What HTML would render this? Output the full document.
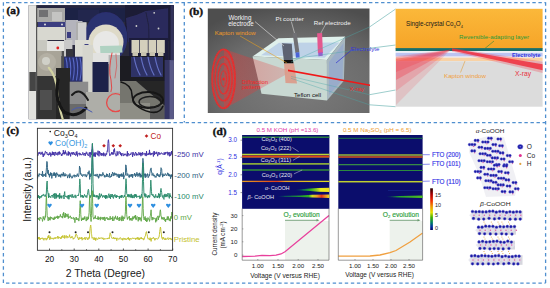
<!DOCTYPE html>
<html><head><meta charset="utf-8"><style>
html,body{margin:0;padding:0;background:#fff;width:550px;height:288px;overflow:hidden}
svg{display:block}

</style></head><body><svg width="550" height="288" viewBox="0 0 550 288"><defs>
<filter id="blur04" x="-5%" y="-50%" width="110%" height="200%"><feGaussianBlur stdDeviation="0.4"/></filter>
<filter id="blur06" x="-5%" y="-5%" width="110%" height="110%"><feGaussianBlur stdDeviation="0.6"/></filter>
<radialGradient id="gbg" cx="0.55" cy="0.75" r="0.8"><stop offset="0" stop-color="#7c7c7c"/><stop offset="0.6" stop-color="#6c6c6c"/><stop offset="1" stop-color="#4e4e4e"/></radialGradient>
<linearGradient id="gcone" x1="0" x2="1"><stop offset="0" stop-color="#e83838" stop-opacity="0.4"/><stop offset="0.5" stop-color="#e83838" stop-opacity="0.3"/><stop offset="1" stop-color="#e83838" stop-opacity="0.22"/></linearGradient>
<linearGradient id="gorange" x1="0" y1="0" x2="0" y2="1"><stop offset="0" stop-color="#fbb83a"/><stop offset="1" stop-color="#f6a428"/></linearGradient>
</defs><g filter="url(#blur06)"><rect x="28.6" y="5.2" width="145" height="114" fill="#2c2c3c" opacity="1"/><rect x="36.5" y="5.2" width="137" height="3" fill="#262840" opacity="1"/><rect x="36.5" y="8" width="29" height="14" fill="#a8a8a6" opacity="1"/><rect x="39" y="10" width="9" height="7" fill="#707072" opacity="1"/><rect x="52" y="12" width="10" height="9" fill="#c4c4c2" opacity="1"/><rect x="65" y="8" width="60" height="14" fill="#1e2044" opacity="1"/><rect x="125" y="5.2" width="48.5" height="36" fill="#1c1c34" opacity="1"/><polygon points="126,18 137,14.7 145.6,11 168.4,8.3 168.4,40 128,42" fill="#2c2c5c" opacity="1"/><path d="M146 12.5 Q150 26 149 40" fill="none" stroke="#202040" stroke-width="1" opacity="1" stroke-linecap="round"/><circle cx="154.2" cy="12.8" r="0.9" fill="#ccc"/><circle cx="136.4" cy="26" r="0.9" fill="#ccc"/><circle cx="158.5" cy="28.5" r="0.9" fill="#ccc"/><rect x="38" y="22" width="28" height="5" fill="#3a3e80" opacity="1"/><circle cx="45" cy="24.5" r="1" fill="#ddd"/><circle cx="62" cy="24.5" r="1" fill="#ddd"/><rect x="37" y="27" width="28" height="13" fill="#d8d8d0" opacity="1"/><rect x="65.5" y="20" width="17" height="25" fill="#b4b4bc" opacity="1"/><rect x="67" y="32" width="4" height="6" fill="#3a3e80" opacity="1"/><rect x="76" y="22" width="10.5" height="22" fill="#aeaeae" opacity="1"/><rect x="78" y="10" width="21" height="11" fill="#24284e" opacity="1"/><ellipse cx="106" cy="37.5" rx="21.5" ry="25.5" fill="#2c3070" opacity="1"/><ellipse cx="106" cy="42" rx="17.5" ry="17.5" fill="#dedac8" opacity="1"/><ellipse cx="106" cy="44" rx="13" ry="13" fill="#e8e8e6" opacity="1"/><rect x="78" y="23" width="8.3" height="22" fill="#d0d0d0" opacity="1"/><polygon points="100,46 122,45.5 122.5,52.5 100.5,53.5" fill="#b0d2c2" opacity="1"/><rect x="129" y="38" width="39" height="22" fill="#1c1e3a" opacity="1"/><rect x="131.5" y="40" width="7.8" height="13" fill="#d4d0bc" opacity="1"/><rect x="132.5" y="52" width="5.5" height="7" fill="#c8c4b0" opacity="1"/><rect x="140" y="40" width="7.8" height="13" fill="#d4d0bc" opacity="1"/><rect x="141" y="52" width="5.5" height="7" fill="#c8c4b0" opacity="1"/><rect x="148.5" y="40" width="7.8" height="13" fill="#d4d0bc" opacity="1"/><rect x="149.5" y="52" width="5.5" height="7" fill="#c8c4b0" opacity="1"/><rect x="157" y="40" width="7.8" height="13" fill="#d4d0bc" opacity="1"/><rect x="158" y="52" width="5.5" height="7" fill="#c8c4b0" opacity="1"/><rect x="36.5" y="40" width="11" height="12" fill="#c8c8c0" opacity="1"/><rect x="47" y="41" width="19" height="15" fill="#e4e4e0" opacity="1"/><ellipse cx="57.8" cy="48" rx="1.4" ry="1.4" fill="#e02020" opacity="1"/><rect x="36.5" y="51" width="25" height="25" fill="#a8a498" opacity="1"/><ellipse cx="47" cy="62" rx="9" ry="9" fill="#b4b0a4" opacity="1"/><ellipse cx="46" cy="61" rx="4" ry="4" fill="#d0d0c8" opacity="1"/><rect x="61.5" y="51" width="3" height="25" fill="#505050" opacity="1"/><rect x="64" y="40" width="8.4" height="16.7" fill="#c8c8c8" opacity="1"/><rect x="75" y="40" width="15.5" height="19" fill="#dcdcd4" opacity="1"/><rect x="66" y="49" width="7" height="13" fill="#34343e" opacity="1"/><rect x="84.5" y="44" width="4" height="8" fill="#3a3e80" opacity="1"/><rect x="64" y="56.7" width="19.5" height="25" fill="#2a3070" opacity="1"/><path d="M66 58 Q68.5 68 66 80" fill="none" stroke="#5a6ac8" stroke-width="1.1" opacity="1" stroke-linecap="round"/><path d="M69.5 58 Q72.0 68 69.5 80" fill="none" stroke="#5a6ac8" stroke-width="1.1" opacity="1" stroke-linecap="round"/><path d="M73 58 Q75.5 68 73 80" fill="none" stroke="#5a6ac8" stroke-width="1.1" opacity="1" stroke-linecap="round"/><path d="M76.5 58 Q79.0 68 76.5 80" fill="none" stroke="#5a6ac8" stroke-width="1.1" opacity="1" stroke-linecap="round"/><path d="M80 58 Q82.5 68 80 80" fill="none" stroke="#5a6ac8" stroke-width="1.1" opacity="1" stroke-linecap="round"/><rect x="82.5" y="45" width="10.5" height="55" fill="#d6d6ce" opacity="1"/><rect x="93" y="53" width="27" height="11" fill="#e2e2e0" opacity="1"/><rect x="92.5" y="62" width="16" height="33" fill="#1e2048" opacity="1"/><rect x="108.6" y="55" width="11.4" height="37" fill="#b4b4b4" opacity="1"/><path d="M112 53 Q108 70 111 80 Q113 88 110 96" fill="none" stroke="#e04848" stroke-width="1" opacity="1" stroke-linecap="round"/><path d="M116 54 Q118 66 115 78" fill="none" stroke="#d06060" stroke-width="0.8" opacity="1" stroke-linecap="round"/><rect x="120" y="56" width="45" height="25" fill="#1a1a22" opacity="1"/><rect x="131" y="57" width="32" height="20" fill="#2e3266" opacity="1"/><path d="M134 57 Q136 68 140 75" fill="none" stroke="#6470c4" stroke-width="1.2" opacity="1" stroke-linecap="round"/><path d="M141 57 Q143 68 147 75" fill="none" stroke="#6470c4" stroke-width="1.2" opacity="1" stroke-linecap="round"/><path d="M148 57 Q150 68 154 75" fill="none" stroke="#6470c4" stroke-width="1.2" opacity="1" stroke-linecap="round"/><path d="M155 57 Q157 68 161 75" fill="none" stroke="#6470c4" stroke-width="1.2" opacity="1" stroke-linecap="round"/><rect x="36.5" y="76" width="20" height="43" fill="#343434" opacity="1"/><rect x="40" y="90" width="12" height="20" fill="#505050" opacity="1"/><rect x="56" y="68" width="14" height="51" fill="#262626" opacity="1"/><rect x="69.7" y="81.7" width="18.5" height="22.3" fill="#8c8c8c" opacity="1"/><rect x="69.7" y="104" width="18.5" height="15" fill="#6a6a6a" opacity="1"/><rect x="86" y="92" width="45" height="27" fill="#aeaea8" opacity="1"/><path d="M106.6 102.7 A9 9 0 1 0 124.6 102.7 A9 9 0 1 0 106.6 102.7" fill="none" stroke="#e84848" stroke-width="1.3" opacity="1" stroke-linecap="round"/><rect x="120" y="81" width="45" height="38" fill="#74746e" opacity="1"/><polygon points="136,81 165,81 165,106" fill="#262628" opacity="1"/><rect x="120" y="103" width="30" height="16" fill="#8e8e86" opacity="1"/><rect x="150" y="106" width="15" height="13" fill="#5a5a5a" opacity="1"/><ellipse cx="148" cy="100" rx="15" ry="8" fill="none" stroke="#161616" stroke-width="1.8"/><ellipse cx="150" cy="102" rx="11" ry="5.5" fill="none" stroke="#1c1c1c" stroke-width="1.4"/><path d="M121 82 Q132 85 132 95 Q133 108 150 112 Q160 114 163 106" fill="none" stroke="#161616" stroke-width="1.6" opacity="1" stroke-linecap="round"/><rect x="168.4" y="5.2" width="5.2" height="55" fill="#1e1e36" opacity="1"/><rect x="164.6" y="60" width="9" height="59" fill="#363664" opacity="1"/><rect x="169.6" y="60" width="4" height="59" fill="#5a5a88" opacity="1"/><rect x="170.6" y="5.2" width="3" height="55" fill="#30305a" opacity="1"/><rect x="28.6" y="5.2" width="7.8" height="114" fill="#e2e2de" opacity="1"/><rect x="29.4" y="72" width="6.5" height="19" fill="#444" opacity="1"/><rect x="36" y="5.2" width="1.2" height="114" fill="#555" opacity="1"/><path d="M48.8 67.8 Q56 76 57 90 Q59 108 62.7 119" fill="none" stroke="#d2d2a2" stroke-width="2.2" opacity="1" stroke-linecap="round"/><path d="M58 80 Q54 100 64 112 Q76 119 86 108" fill="none" stroke="#141414" stroke-width="3" opacity="1" stroke-linecap="round"/><path d="M72 95 Q80 86 88 100" fill="none" stroke="#1a1a1a" stroke-width="2" opacity="1" stroke-linecap="round"/><path d="M72 110 Q80 104 92 112" fill="none" stroke="#4a5ab0" stroke-width="1" opacity="1" stroke-linecap="round"/></g><rect x="207.8" y="8.5" width="161.7" height="104.5" fill="url(#gbg)"/><polygon points="252.6,56.4 278.5,38.3 345.2,36.5 326.9,60" fill="#dff0ec"/><polygon points="261,55.3 279,42.8 339.5,42.5 324.5,57.8" fill="#b8cce6" opacity="0.85"/><polygon points="252.6,56.4 326.9,60 327,100.5 261.5,93.8" fill="#c8d8d2"/><polygon points="326.9,60 345.2,36.5 343.9,80.8 327,100.5" fill="#a8b8c0"/><polygon points="329,62 343.5,43 342.5,80 329,95" fill="#90a4d0" opacity="0.6"/><polygon points="224,49 287,70 287,74 224,109" fill="url(#gcone)"/><g filter="url(#blur04)"><ellipse cx="223.6" cy="78.8" rx="12" ry="30" fill="#f03030" opacity="0.22"/><ellipse cx="223.6" cy="78.8" rx="11.4" ry="29.4" fill="none" stroke="#f02828" stroke-width="1.9" opacity="0.8"/><ellipse cx="223.6" cy="78.8" rx="8.5" ry="22" fill="none" stroke="#f02828" stroke-width="1.5" opacity="0.8"/><ellipse cx="223.6" cy="78.8" rx="5.7" ry="15" fill="none" stroke="#f02828" stroke-width="1.4" opacity="0.8"/><ellipse cx="223.6" cy="78.8" rx="3" ry="8" fill="none" stroke="#f02828" stroke-width="1" opacity="0.8"/><ellipse cx="223.6" cy="79" rx="1.2" ry="1.6" fill="#f02828"/></g><polygon points="281.8,43.2 291.8,43.8 292.9,59.9 283.8,59.9" fill="#5c6272"/><polygon points="283.8,59.9 292.9,59.9 293.5,63.5 284,63.5" fill="#0c0c0c"/><polygon points="284,63.5 294,63.5 297,83.4 285.5,83" fill="#dc9a88" opacity="0.9"/><path d="M291.3 21.5 L294.5 33" stroke="#c8c8c8" stroke-width="0.7"/><path d="M294.6 33 L297.4 52.6" stroke="#707074" stroke-width="4"/><path d="M297.4 52.3 L297.8 57.6" stroke="#4a64d8" stroke-width="3.8"/><path d="M326 23.7 L320.8 33.2" stroke="#e0e0e0" stroke-width="0.5"/><path d="M319.6 33.2 L320.4 53" stroke="#e4588e" stroke-width="5"/><path d="M320.4 52.5 L320.6 56" stroke="#9a5ad0" stroke-width="4.4"/><polygon points="288,69.6 370,84.4 370,86 288,71.2" fill="#f01818"/><path d="M291 62 L369.5 27 M291 59 L369.5 48.3 M291 76.4 L369.5 94.7 M291 78.3 L369.5 104.8" stroke="#4aa8a8" stroke-width="0.45" fill="none" opacity="0.9"/><path d="M255 21.6 L284 46" stroke="#e8e8e8" stroke-width="0.6"/><path d="M240 36 L287 63" stroke="#e8a020" stroke-width="0.6"/><path d="M351 50.5 L336 63" stroke="#3030d0" stroke-width="0.7"/><text x="228.4" y="19.8" font-size="6.5" fill="#f2f2f2" text-anchor="start" font-family="Liberation Sans, sans-serif" textLength="23" lengthAdjust="spacingAndGlyphs" >Working</text><text x="228.2" y="25.6" font-size="6.6" fill="#f2f2f2" text-anchor="start" font-family="Liberation Sans, sans-serif" textLength="25.4" lengthAdjust="spacingAndGlyphs" >electrode</text><text x="214.7" y="34.9" font-size="6.1" fill="#f09a28" text-anchor="start" font-family="Liberation Sans, sans-serif" textLength="41" lengthAdjust="spacingAndGlyphs" >Kapton window</text><text x="275.5" y="21.2" font-size="6.2" fill="#f2f2f2" text-anchor="start" font-family="Liberation Sans, sans-serif" textLength="28.3" lengthAdjust="spacingAndGlyphs" >Pt counter</text><text x="313.7" y="24.5" font-size="6.2" fill="#f2f2f2" text-anchor="start" font-family="Liberation Sans, sans-serif" textLength="37" lengthAdjust="spacingAndGlyphs" >Ref electrode</text><text x="350.8" y="50.6" font-size="6.1" fill="#3535d8" text-anchor="start" font-family="Liberation Sans, sans-serif" textLength="28.5" lengthAdjust="spacingAndGlyphs" >Electrolyte</text><text x="241.7" y="83.6" font-size="6" fill="#f02828" text-anchor="start" font-family="Liberation Sans, sans-serif" textLength="26.3" lengthAdjust="spacingAndGlyphs" >Diffraction</text><text x="241.7" y="89.4" font-size="6.1" fill="#f02828" text-anchor="start" font-family="Liberation Sans, sans-serif" textLength="19" lengthAdjust="spacingAndGlyphs" >pattern</text><text x="294" y="96.8" font-size="6.1" fill="#111" text-anchor="start" font-family="Liberation Sans, sans-serif" textLength="27" lengthAdjust="spacingAndGlyphs" >Teflon cell</text><text x="349.5" y="91" font-size="6.1" fill="#f02828" text-anchor="start" font-family="Liberation Sans, sans-serif" textLength="14.7" lengthAdjust="spacingAndGlyphs" >X-ray</text><path d="M369.5 27 L395.6 9 M369.5 48.3 L395.6 45 M369.5 94.7 L395.6 90 M369.5 104.8 L395.6 106.7" stroke="#3a9a98" stroke-width="0.5" fill="none"/><rect x="395.6" y="8.8" width="147.0" height="40" fill="url(#gorange)"/><rect x="395.6" y="48.1" width="147.0" height="3.1" fill="#1a6e6a"/><rect x="395.6" y="51.2" width="147.0" height="1.6" fill="#f4f4f8"/><rect x="395.6" y="52.8" width="147.0" height="3.8" fill="#bcc4f2"/><rect x="395.6" y="56.6" width="147.0" height="1" fill="#eaeaf2"/><rect x="395.6" y="57.6" width="147.0" height="3.6" fill="#f8d2a6"/><rect x="395.6" y="61.2" width="147.0" height="45.5" fill="#dcdcdc"/><polygon points="451,49.5 396,56 396,105" fill="#f04050" opacity="0.17"/><polygon points="451,49.5 396,57 396,91" fill="#f04050" opacity="0.22"/><polygon points="451,49.5 396,59 396,80" fill="#f03848" opacity="0.33"/><polygon points="451,49.5 396,61 396,72" fill="#f03040" opacity="0.25"/><g filter="url(#blur04)"><polygon points="452,48 542.6,61.5 542.6,73 452,51.5" fill="#f04050" opacity="0.3"/><polygon points="452,48.6 542.6,64.2 542.6,70.2 452,50.6" fill="#f02838" opacity="0.8"/></g><path d="M460.5 72.5 L465 61" stroke="#e0a040" stroke-width="0.6"/><path d="M494 41 L485 48.4" stroke="#2a8a3a" stroke-width="0.6"/><text x="406" y="26.3" font-size="6.3" fill="#1a1a1a" text-anchor="start" font-family="Liberation Sans, sans-serif" >Single-crystal Co<tspan font-size="4" dy="1.5">3</tspan><tspan dy="-1.5">O</tspan><tspan font-size="4" dy="1.5">4</tspan></text><text x="459" y="39.4" font-size="6" fill="#2a9a3a" text-anchor="start" font-family="Liberation Sans, sans-serif" textLength="70" lengthAdjust="spacingAndGlyphs" >Reversible-adapting layer</text><text x="512" y="57.4" font-size="6" fill="#3434e0" text-anchor="start" font-family="Liberation Sans, sans-serif" textLength="28.5" lengthAdjust="spacingAndGlyphs" font-weight="bold">Electrolyte</text><text x="444" y="78.4" font-size="6.1" fill="#f0a040" text-anchor="start" font-family="Liberation Sans, sans-serif" textLength="42" lengthAdjust="spacingAndGlyphs" >Kapton window</text><text x="515" y="76" font-size="6.6" fill="#e83040" text-anchor="start" font-family="Liberation Sans, sans-serif" textLength="16" lengthAdjust="spacingAndGlyphs" >X-ray</text><polyline points="37.6,155.5 37.9,155.8 38.3,153.9 38.6,152.8 38.9,152.3 39.2,153.8 39.6,152.4 39.9,151.9 40.2,154.1 40.6,154.0 40.9,154.5 41.2,152.6 41.6,153.8 41.9,153.7 42.2,151.8 42.5,154.5 42.9,154.2 43.2,157.0 43.5,154.1 43.9,153.6 44.2,155.4 44.5,153.8 44.9,154.2 45.2,151.4 45.5,151.3 45.8,152.3 46.2,152.8 46.5,153.1 46.8,152.1 47.2,154.3 47.5,153.9 47.8,154.8 48.2,154.1 48.5,155.3 48.8,153.7 49.1,154.1 49.5,154.7 49.8,152.3 50.1,153.3 50.5,153.1 50.8,156.5 51.1,153.7 51.5,154.7 51.8,154.6 52.1,153.4 52.4,151.7 52.8,155.1 53.1,153.3 53.4,154.8 53.8,152.0 54.1,153.2 54.4,155.5 54.8,155.7 55.1,152.0 55.4,152.0 55.7,153.7 56.1,154.8 56.4,154.0 56.7,154.2 57.1,152.5 57.4,154.6 57.7,155.3 58.1,153.2 58.4,151.9 58.7,152.8 59.0,154.8 59.4,151.5 59.7,153.7 60.0,152.5 60.4,153.6 60.7,153.5 61.0,153.8 61.4,155.8 61.7,154.4 62.0,155.6 62.3,153.6 62.7,153.2 63.0,154.3 63.3,150.0 63.7,153.7 64.0,154.0 64.3,152.1 64.7,154.4 65.0,153.0 65.3,150.5 65.6,153.5 66.0,152.5 66.3,153.1 66.6,153.6 67.0,155.5 67.3,153.9 67.6,153.8 68.0,154.3 68.3,151.4 68.6,155.5 68.9,152.3 69.3,154.4 69.6,152.3 69.9,152.5 70.3,153.3 70.6,156.4 70.9,154.7 71.3,153.0 71.6,153.4 71.9,152.2 72.2,153.8 72.6,153.0 72.9,154.8 73.2,152.0 73.6,153.3 73.9,152.7 74.2,152.8 74.6,154.8 74.9,154.0 75.2,154.6 75.5,155.4 75.9,155.4 76.2,151.9 76.5,154.5 76.9,151.4 77.2,153.7 77.5,156.4 77.9,153.5 78.2,153.3 78.5,154.0 78.8,153.8 79.2,153.8 79.5,152.8 79.8,155.3 80.2,155.0 80.5,153.5 80.8,154.2 81.2,154.7 81.5,155.2 81.8,154.3 82.1,154.7 82.5,153.4 82.8,152.4 83.1,153.1 83.5,155.2 83.8,155.1 84.1,154.0 84.5,153.0 84.8,154.2 85.1,156.0 85.4,155.6 85.8,152.9 86.1,153.7 86.4,151.8 86.8,152.3 87.1,154.1 87.4,153.8 87.8,155.1 88.1,155.5 88.4,154.9 88.7,155.6 89.1,153.1 89.4,152.3 89.7,154.5 90.1,157.4 90.4,154.3 90.7,152.2 91.1,154.0 91.4,155.1 91.7,149.7 92.0,148.4 92.4,144.0 92.7,148.5 93.0,151.8 93.4,153.5 93.7,156.4 94.0,153.2 94.4,152.9 94.7,156.3 95.0,152.6 95.3,156.8 95.7,153.7 96.0,152.4 96.3,153.8 96.7,154.0 97.0,154.1 97.3,153.5 97.7,155.3 98.0,150.7 98.3,153.1 98.6,153.4 99.0,156.3 99.3,151.1 99.6,153.3 100.0,152.3 100.3,152.9 100.6,154.7 101.0,154.4 101.3,155.7 101.6,153.0 101.9,154.2 102.3,155.4 102.6,155.0 102.9,153.3 103.3,155.3 103.6,152.6 103.9,156.2 104.3,154.0 104.6,153.6 104.9,154.2 105.2,154.9 105.6,156.2 105.9,153.6 106.2,153.3 106.6,154.6 106.9,152.5 107.2,150.8 107.6,151.4 107.9,143.7 108.2,140.6 108.5,139.7 108.9,143.7 109.2,152.5 109.5,153.7 109.9,155.9 110.2,154.5 110.5,154.2 110.9,154.6 111.2,153.3 111.5,153.9 111.8,152.0 112.2,154.5 112.5,152.7 112.8,153.2 113.2,154.6 113.5,154.1 113.8,149.6 114.2,151.8 114.5,148.5 114.8,152.5 115.1,154.3 115.5,154.0 115.8,154.0 116.1,156.2 116.5,155.0 116.8,154.4 117.1,151.3 117.5,152.8 117.8,155.4 118.1,154.0 118.4,152.3 118.8,152.2 119.1,151.4 119.4,151.8 119.8,151.8 120.1,154.0 120.4,152.4 120.8,155.1 121.1,153.1 121.4,153.4 121.7,156.1 122.1,153.9 122.4,153.6 122.7,153.5 123.1,153.3 123.4,155.9 123.7,155.7 124.1,154.8 124.4,154.0 124.7,155.2 125.0,153.7 125.4,154.4 125.7,154.3 126.0,153.9 126.4,156.0 126.7,156.2 127.0,155.6 127.4,151.2 127.7,156.3 128.0,154.7 128.3,153.2 128.7,153.8 129.0,155.3 129.3,155.4 129.7,155.0 130.0,154.0 130.3,153.8 130.7,154.9 131.0,153.7 131.3,152.6 131.6,153.0 132.0,153.6 132.3,154.2 132.6,156.9 133.0,152.0 133.3,154.4 133.6,153.7 134.0,154.2 134.3,155.6 134.6,155.5 134.9,153.6 135.3,153.0 135.6,152.0 135.9,153.7 136.3,155.5 136.6,153.4 136.9,154.8 137.3,154.8 137.6,154.3 137.9,155.3 138.2,153.6 138.6,152.7 138.9,152.2 139.2,155.1 139.6,153.3 139.9,153.4 140.2,154.9 140.6,152.7 140.9,156.2 141.2,154.7 141.6,153.1 141.9,152.9 142.2,155.3 142.5,152.2 142.9,152.9 143.2,153.8 143.5,154.1 143.9,153.8 144.2,154.3 144.5,153.3 144.9,153.6 145.2,155.5 145.5,154.7 145.8,153.2 146.2,156.1 146.5,151.1 146.8,153.9 147.2,154.7 147.5,155.1 147.8,154.0 148.2,153.3 148.5,154.6 148.8,153.5 149.1,154.4 149.5,149.9 149.8,154.3 150.1,152.7 150.5,155.1 150.8,154.8 151.1,154.8 151.5,153.3 151.8,154.4 152.1,153.3 152.4,154.1 152.8,153.6 153.1,152.6 153.4,156.5 153.8,154.8 154.1,151.0 154.4,155.0 154.8,151.9 155.1,153.5 155.4,153.0 155.7,153.1 156.1,154.1 156.4,153.4 156.7,151.8 157.1,153.8 157.4,154.3 157.7,156.2 158.1,153.2 158.4,152.2 158.7,153.3 159.0,154.7 159.4,152.6 159.7,152.8 160.0,154.5 160.4,153.8 160.7,154.1 161.0,153.0 161.4,152.7 161.7,153.4 162.0,153.6 162.3,153.3 162.7,154.4 163.0,154.5 163.3,154.5 163.7,154.4 164.0,152.6 164.3,152.3 164.7,154.9 165.0,153.8 165.3,154.0 165.6,152.2 166.0,153.5 166.3,152.9 166.6,152.6 167.0,152.9 167.3,151.8 167.6,153.9 168.0,155.4 168.3,152.8 168.6,153.9 168.9,152.3 169.3,154.7 169.6,156.3 169.9,152.1 170.3,153.5 170.6,155.7 170.9,154.3 171.3,154.0 171.6,151.0 171.9,153.6 172.2,155.0" fill="none" stroke="#4232a6" stroke-width="0.95" stroke-linejoin="round"/><polyline points="37.6,178.6 37.9,174.5 38.3,175.9 38.6,175.6 38.9,176.5 39.2,173.5 39.6,174.8 39.9,174.4 40.2,173.9 40.6,174.3 40.9,174.7 41.2,175.0 41.6,174.2 41.9,176.0 42.2,174.7 42.5,171.1 42.9,177.0 43.2,174.9 43.5,174.4 43.9,175.8 44.2,175.7 44.5,175.5 44.9,174.2 45.2,175.7 45.5,173.3 45.8,176.9 46.2,171.1 46.5,167.2 46.8,161.4 47.2,161.8 47.5,167.3 47.8,173.6 48.2,170.1 48.5,175.0 48.8,175.0 49.1,174.6 49.5,177.3 49.8,173.9 50.1,175.1 50.5,172.5 50.8,175.6 51.1,173.0 51.5,173.1 51.8,178.4 52.1,176.2 52.4,175.2 52.8,175.5 53.1,173.3 53.4,173.8 53.8,175.8 54.1,172.3 54.4,175.6 54.8,172.9 55.1,175.4 55.4,173.7 55.7,177.6 56.1,176.6 56.4,174.5 56.7,172.6 57.1,174.1 57.4,175.1 57.7,173.9 58.1,175.6 58.4,176.6 58.7,175.1 59.0,174.6 59.4,176.3 59.7,174.8 60.0,176.4 60.4,174.8 60.7,177.4 61.0,174.8 61.4,173.8 61.7,175.4 62.0,174.4 62.3,173.9 62.7,175.1 63.0,176.3 63.3,172.3 63.7,175.2 64.0,175.0 64.3,175.0 64.7,176.3 65.0,173.4 65.3,176.1 65.6,174.9 66.0,175.4 66.3,174.9 66.6,174.8 67.0,174.5 67.3,175.8 67.6,178.1 68.0,176.7 68.3,176.4 68.6,176.0 68.9,174.6 69.3,176.1 69.6,178.1 69.9,173.5 70.3,176.4 70.6,176.7 70.9,175.7 71.3,176.4 71.6,177.2 71.9,178.3 72.2,177.1 72.6,177.6 72.9,175.7 73.2,176.4 73.6,175.5 73.9,175.7 74.2,174.7 74.6,176.2 74.9,177.3 75.2,175.1 75.5,175.7 75.9,176.2 76.2,175.4 76.5,176.6 76.9,175.7 77.2,173.7 77.5,173.9 77.9,176.3 78.2,176.2 78.5,176.7 78.8,174.8 79.2,172.4 79.5,166.0 79.8,168.3 80.2,167.8 80.5,174.3 80.8,173.2 81.2,174.4 81.5,175.6 81.8,174.8 82.1,174.4 82.5,176.6 82.8,176.3 83.1,175.9 83.5,174.9 83.8,174.2 84.1,174.7 84.5,174.7 84.8,175.3 85.1,176.4 85.4,175.1 85.8,174.3 86.1,174.5 86.4,177.1 86.8,175.6 87.1,175.6 87.4,175.2 87.8,174.3 88.1,172.0 88.4,173.1 88.7,174.1 89.1,170.7 89.4,175.0 89.7,179.4 90.1,173.6 90.4,175.6 90.7,176.8 91.1,175.2 91.4,175.8 91.7,167.8 92.0,159.2 92.4,155.2 92.7,158.9 93.0,167.1 93.4,174.5 93.7,175.5 94.0,175.4 94.4,174.8 94.7,175.8 95.0,175.2 95.3,174.4 95.7,176.1 96.0,175.9 96.3,175.5 96.7,176.3 97.0,173.9 97.3,175.2 97.7,174.7 98.0,177.2 98.3,176.1 98.6,178.3 99.0,177.5 99.3,174.9 99.6,173.9 100.0,176.1 100.3,175.0 100.6,175.2 101.0,174.0 101.3,176.2 101.6,175.7 101.9,175.9 102.3,175.8 102.6,174.2 102.9,172.4 103.3,175.0 103.6,174.5 103.9,174.7 104.3,176.7 104.6,175.3 104.9,177.4 105.2,175.6 105.6,176.3 105.9,176.1 106.2,176.5 106.6,173.7 106.9,176.9 107.2,175.5 107.6,174.1 107.9,176.2 108.2,175.9 108.5,177.1 108.9,176.4 109.2,175.9 109.5,173.2 109.9,177.7 110.2,177.4 110.5,176.4 110.9,176.0 111.2,177.0 111.5,174.2 111.8,176.1 112.2,174.6 112.5,172.1 112.8,173.0 113.2,173.0 113.5,175.8 113.8,175.8 114.2,173.0 114.5,172.7 114.8,175.3 115.1,175.1 115.5,174.1 115.8,173.4 116.1,175.1 116.5,173.8 116.8,174.5 117.1,176.6 117.5,175.7 117.8,174.4 118.1,173.9 118.4,175.1 118.8,177.7 119.1,174.7 119.4,177.7 119.8,174.3 120.1,175.1 120.4,176.3 120.8,174.4 121.1,175.5 121.4,173.6 121.7,176.3 122.1,177.0 122.4,174.5 122.7,175.7 123.1,174.8 123.4,172.5 123.7,179.1 124.1,176.2 124.4,176.5 124.7,175.8 125.0,174.7 125.4,175.0 125.7,164.9 126.0,165.0 126.4,167.9 126.7,172.4 127.0,175.7 127.4,174.3 127.7,173.6 128.0,173.9 128.3,176.0 128.7,176.7 129.0,176.5 129.3,177.6 129.7,174.7 130.0,176.7 130.3,176.3 130.7,175.2 131.0,174.4 131.3,176.6 131.6,174.5 132.0,175.0 132.3,174.1 132.6,177.8 133.0,175.3 133.3,174.7 133.6,175.1 134.0,175.1 134.3,175.5 134.6,173.1 134.9,173.8 135.3,176.1 135.6,176.9 135.9,174.0 136.3,175.6 136.6,174.6 136.9,172.3 137.3,175.0 137.6,173.9 137.9,176.6 138.2,175.1 138.6,175.3 138.9,173.4 139.2,175.6 139.6,172.8 139.9,175.7 140.2,177.3 140.6,173.8 140.9,176.5 141.2,177.3 141.6,175.1 141.9,176.4 142.2,172.6 142.5,166.1 142.9,158.3 143.2,160.4 143.5,166.2 143.9,176.5 144.2,175.4 144.5,175.1 144.9,173.6 145.2,177.7 145.5,173.8 145.8,177.4 146.2,176.9 146.5,175.5 146.8,174.5 147.2,175.3 147.5,173.6 147.8,176.3 148.2,177.7 148.5,176.6 148.8,176.8 149.1,174.4 149.5,175.7 149.8,173.3 150.1,171.7 150.5,169.0 150.8,168.8 151.1,167.9 151.5,172.2 151.8,172.0 152.1,175.5 152.4,174.2 152.8,173.5 153.1,173.4 153.4,175.6 153.8,174.9 154.1,176.3 154.4,175.1 154.8,175.4 155.1,177.4 155.4,176.5 155.7,176.4 156.1,177.4 156.4,175.7 156.7,174.1 157.1,174.3 157.4,173.3 157.7,175.9 158.1,174.9 158.4,176.1 158.7,176.5 159.0,174.3 159.4,175.6 159.7,177.1 160.0,175.3 160.4,175.6 160.7,171.6 161.0,167.7 161.4,168.5 161.7,169.0 162.0,175.1 162.3,174.5 162.7,177.2 163.0,173.7 163.3,175.6 163.7,175.9 164.0,175.1 164.3,175.9 164.7,174.4 165.0,173.9 165.3,173.5 165.6,174.6 166.0,174.3 166.3,175.7 166.6,174.9 167.0,174.5 167.3,174.4 167.6,172.8 168.0,174.9 168.3,176.0 168.6,173.6 168.9,175.0 169.3,176.3 169.6,174.5 169.9,175.7 170.3,174.8 170.6,178.7 170.9,177.3 171.3,177.0 171.6,174.5 171.9,176.3 172.2,175.2" fill="none" stroke="#2f6482" stroke-width="0.95" stroke-linejoin="round"/><polyline points="37.6,196.4 37.9,197.9 38.3,195.1 38.6,197.6 38.9,196.0 39.2,196.0 39.6,198.8 39.9,196.5 40.2,196.2 40.6,197.2 40.9,197.8 41.2,196.3 41.6,197.1 41.9,195.0 42.2,195.8 42.5,195.7 42.9,194.6 43.2,194.3 43.5,194.2 43.9,196.0 44.2,196.1 44.5,195.9 44.9,196.4 45.2,194.6 45.5,196.2 45.8,196.5 46.2,195.9 46.5,189.0 46.8,182.9 47.2,181.0 47.5,189.7 47.8,192.1 48.2,194.3 48.5,197.7 48.8,193.4 49.1,197.3 49.5,196.7 49.8,195.9 50.1,196.9 50.5,197.0 50.8,197.7 51.1,196.0 51.5,195.5 51.8,195.5 52.1,195.0 52.4,196.2 52.8,195.3 53.1,197.7 53.4,193.9 53.8,194.9 54.1,195.1 54.4,193.6 54.8,198.8 55.1,193.2 55.4,195.9 55.7,195.6 56.1,198.5 56.4,193.7 56.7,197.7 57.1,195.3 57.4,196.1 57.7,195.4 58.1,197.1 58.4,194.8 58.7,196.2 59.0,196.8 59.4,198.7 59.7,193.2 60.0,198.3 60.4,197.5 60.7,195.7 61.0,196.7 61.4,195.7 61.7,198.4 62.0,196.6 62.3,196.0 62.7,196.0 63.0,196.0 63.3,196.1 63.7,195.2 64.0,199.0 64.3,193.8 64.7,191.6 65.0,196.1 65.3,196.1 65.6,196.8 66.0,196.0 66.3,196.1 66.6,196.7 67.0,197.6 67.3,195.7 67.6,195.8 68.0,198.8 68.3,197.0 68.6,195.0 68.9,199.3 69.3,197.3 69.6,195.5 69.9,194.8 70.3,196.7 70.6,195.2 70.9,194.9 71.3,194.6 71.6,195.6 71.9,197.7 72.2,195.7 72.6,194.4 72.9,197.2 73.2,196.4 73.6,197.4 73.9,197.9 74.2,196.1 74.6,196.1 74.9,196.2 75.2,194.8 75.5,197.2 75.9,198.1 76.2,196.5 76.5,196.0 76.9,196.0 77.2,195.3 77.5,195.3 77.9,195.8 78.2,195.2 78.5,195.7 78.8,193.5 79.2,192.4 79.5,184.3 79.8,178.9 80.2,183.3 80.5,193.3 80.8,197.3 81.2,195.3 81.5,195.7 81.8,195.6 82.1,197.1 82.5,195.1 82.8,197.6 83.1,195.9 83.5,197.5 83.8,196.3 84.1,196.0 84.5,194.4 84.8,195.4 85.1,196.0 85.4,197.2 85.8,196.6 86.1,195.4 86.4,196.8 86.8,197.6 87.1,195.9 87.4,194.6 87.8,192.1 88.1,190.2 88.4,189.3 88.7,190.4 89.1,195.2 89.4,195.4 89.7,195.3 90.1,197.9 90.4,197.4 90.7,195.4 91.1,196.3 91.4,195.3 91.7,184.3 92.0,160.6 92.4,143.2 92.7,155.0 93.0,183.3 93.4,195.1 93.7,196.8 94.0,194.5 94.4,196.7 94.7,195.2 95.0,197.0 95.3,197.1 95.7,196.6 96.0,195.3 96.3,195.5 96.7,197.4 97.0,195.1 97.3,196.9 97.7,197.0 98.0,195.9 98.3,199.4 98.6,196.4 99.0,199.1 99.3,193.7 99.6,193.4 100.0,197.6 100.3,197.1 100.6,195.9 101.0,196.2 101.3,193.8 101.6,195.5 101.9,195.0 102.3,196.0 102.6,197.5 102.9,196.4 103.3,196.8 103.6,195.4 103.9,195.7 104.3,196.4 104.6,195.9 104.9,197.9 105.2,195.2 105.6,198.8 105.9,195.0 106.2,197.7 106.6,195.3 106.9,198.4 107.2,196.5 107.6,196.8 107.9,197.3 108.2,195.5 108.5,194.9 108.9,193.7 109.2,197.9 109.5,195.4 109.9,195.5 110.2,196.3 110.5,198.9 110.9,194.1 111.2,196.6 111.5,195.8 111.8,197.0 112.2,194.0 112.5,195.8 112.8,197.4 113.2,198.3 113.5,198.4 113.8,195.2 114.2,196.4 114.5,196.2 114.8,194.5 115.1,194.4 115.5,197.3 115.8,196.6 116.1,196.1 116.5,197.9 116.8,195.0 117.1,197.0 117.5,196.3 117.8,196.2 118.1,196.9 118.4,196.5 118.8,196.6 119.1,196.6 119.4,198.8 119.8,195.9 120.1,197.6 120.4,197.1 120.8,195.8 121.1,197.3 121.4,195.2 121.7,197.8 122.1,195.2 122.4,195.7 122.7,196.7 123.1,197.4 123.4,197.5 123.7,197.5 124.1,196.0 124.4,195.1 124.7,196.9 125.0,195.9 125.4,190.2 125.7,184.0 126.0,178.7 126.4,183.8 126.7,193.5 127.0,194.1 127.4,195.1 127.7,196.8 128.0,194.3 128.3,196.3 128.7,194.5 129.0,197.3 129.3,195.4 129.7,196.5 130.0,194.3 130.3,195.9 130.7,197.5 131.0,196.9 131.3,193.9 131.6,197.5 132.0,197.5 132.3,195.8 132.6,198.1 133.0,194.9 133.3,196.2 133.6,197.7 134.0,198.0 134.3,198.0 134.6,194.9 134.9,194.0 135.3,196.8 135.6,194.4 135.9,196.1 136.3,194.6 136.6,197.7 136.9,197.3 137.3,197.0 137.6,196.3 137.9,196.4 138.2,195.9 138.6,196.8 138.9,196.6 139.2,196.9 139.6,195.7 139.9,198.8 140.2,196.7 140.6,198.1 140.9,198.0 141.2,195.2 141.6,194.1 141.9,197.4 142.2,191.6 142.5,179.4 142.9,162.9 143.2,165.9 143.5,181.3 143.9,193.3 144.2,195.4 144.5,196.3 144.9,193.3 145.2,197.4 145.5,196.7 145.8,194.1 146.2,195.3 146.5,196.3 146.8,197.1 147.2,196.3 147.5,198.1 147.8,196.3 148.2,195.0 148.5,195.4 148.8,197.3 149.1,195.5 149.5,197.4 149.8,197.1 150.1,193.6 150.5,186.8 150.8,180.1 151.1,185.0 151.5,191.7 151.8,194.9 152.1,194.2 152.4,195.6 152.8,194.9 153.1,194.4 153.4,196.5 153.8,196.9 154.1,195.9 154.4,198.1 154.8,197.5 155.1,197.7 155.4,195.5 155.7,194.4 156.1,197.0 156.4,196.7 156.7,197.2 157.1,196.8 157.4,197.9 157.7,195.9 158.1,197.2 158.4,195.1 158.7,193.3 159.0,195.7 159.4,198.2 159.7,194.0 160.0,197.0 160.4,192.7 160.7,189.6 161.0,188.4 161.4,190.8 161.7,192.7 162.0,195.9 162.3,196.8 162.7,197.4 163.0,195.3 163.3,198.3 163.7,198.8 164.0,199.4 164.3,194.6 164.7,196.5 165.0,193.9 165.3,196.8 165.6,197.0 166.0,194.8 166.3,194.2 166.6,196.5 167.0,197.1 167.3,195.3 167.6,196.0 168.0,193.0 168.3,195.4 168.6,196.5 168.9,196.5 169.3,198.4 169.6,194.8 169.9,193.4 170.3,196.9 170.6,195.5 170.9,196.7 171.3,197.2 171.6,197.1 171.9,198.2 172.2,198.1" fill="none" stroke="#2a8a6a" stroke-width="0.95" stroke-linejoin="round"/><polyline points="37.6,218.6 37.9,219.1 38.3,217.9 38.6,219.0 38.9,219.7 39.2,219.0 39.6,220.5 39.9,217.3 40.2,218.6 40.6,217.6 40.9,217.5 41.2,218.3 41.6,218.8 41.9,219.0 42.2,219.2 42.5,221.4 42.9,219.6 43.2,216.4 43.5,218.8 43.9,217.7 44.2,217.8 44.5,220.2 44.9,218.2 45.2,215.8 45.5,217.3 45.8,210.3 46.2,198.3 46.5,196.2 46.8,206.3 47.2,215.5 47.5,217.6 47.8,218.5 48.2,220.9 48.5,217.4 48.8,217.4 49.1,218.1 49.5,219.9 49.8,217.5 50.1,220.3 50.5,216.7 50.8,217.0 51.1,218.3 51.5,217.2 51.8,217.5 52.1,218.9 52.4,219.2 52.8,218.3 53.1,217.8 53.4,219.9 53.8,218.6 54.1,217.7 54.4,219.5 54.8,216.7 55.1,218.0 55.4,218.6 55.7,217.6 56.1,216.8 56.4,217.9 56.7,216.7 57.1,216.5 57.4,215.8 57.7,218.7 58.1,216.2 58.4,218.3 58.7,217.2 59.0,216.2 59.4,217.3 59.7,216.7 60.0,216.4 60.4,214.4 60.7,216.1 61.0,217.1 61.4,216.5 61.7,217.1 62.0,217.6 62.3,216.2 62.7,218.2 63.0,213.6 63.3,215.2 63.7,212.2 64.0,216.6 64.3,215.6 64.7,217.7 65.0,215.1 65.3,213.0 65.6,217.3 66.0,214.0 66.3,214.1 66.6,215.6 67.0,216.8 67.3,215.4 67.6,216.4 68.0,213.8 68.3,218.6 68.6,216.4 68.9,216.7 69.3,217.5 69.6,217.0 69.9,217.2 70.3,215.8 70.6,217.0 70.9,217.8 71.3,218.7 71.6,217.3 71.9,217.7 72.2,218.1 72.6,218.5 72.9,218.1 73.2,217.5 73.6,217.3 73.9,219.5 74.2,218.4 74.6,218.1 74.9,222.7 75.2,219.3 75.5,219.3 75.9,218.5 76.2,217.0 76.5,219.8 76.9,218.2 77.2,218.4 77.5,219.7 77.9,219.7 78.2,218.7 78.5,218.5 78.8,221.1 79.2,218.7 79.5,213.6 79.8,207.9 80.2,200.7 80.5,205.3 80.8,214.7 81.2,218.0 81.5,221.0 81.8,218.8 82.1,218.8 82.5,220.0 82.8,217.8 83.1,219.8 83.5,218.4 83.8,220.0 84.1,217.4 84.5,219.0 84.8,216.4 85.1,217.9 85.4,218.5 85.8,219.1 86.1,221.1 86.4,220.9 86.8,216.8 87.1,217.5 87.4,220.1 87.8,219.1 88.1,216.7 88.4,219.1 88.7,216.3 89.1,212.6 89.4,202.0 89.7,196.2 90.1,205.9 90.4,213.8 90.7,217.5 91.1,221.5 91.4,215.5 91.7,206.8 92.0,192.0 92.4,190.7 92.7,203.5 93.0,216.8 93.4,217.7 93.7,219.2 94.0,218.8 94.4,217.4 94.7,217.2 95.0,218.4 95.3,215.5 95.7,218.5 96.0,218.6 96.3,218.7 96.7,218.4 97.0,219.0 97.3,218.0 97.7,219.3 98.0,216.4 98.3,219.7 98.6,217.4 99.0,219.1 99.3,217.9 99.6,217.9 100.0,217.5 100.3,220.2 100.6,217.1 101.0,216.9 101.3,218.8 101.6,218.8 101.9,218.6 102.3,217.3 102.6,217.7 102.9,219.7 103.3,217.2 103.6,219.3 103.9,219.4 104.3,218.7 104.6,216.9 104.9,221.0 105.2,218.7 105.6,218.8 105.9,218.0 106.2,217.3 106.6,218.2 106.9,218.8 107.2,217.4 107.6,218.7 107.9,220.0 108.2,219.1 108.5,218.4 108.9,219.9 109.2,219.7 109.5,219.7 109.9,217.5 110.2,216.2 110.5,219.5 110.9,218.6 111.2,218.0 111.5,219.1 111.8,217.9 112.2,217.7 112.5,220.8 112.8,216.4 113.2,219.6 113.5,219.8 113.8,220.8 114.2,218.8 114.5,219.2 114.8,217.3 115.1,218.5 115.5,215.8 115.8,217.8 116.1,218.5 116.5,218.4 116.8,217.9 117.1,220.0 117.5,216.4 117.8,218.7 118.1,218.0 118.4,218.6 118.8,218.6 119.1,221.0 119.4,217.1 119.8,220.2 120.1,220.3 120.4,218.3 120.8,217.7 121.1,216.9 121.4,217.4 121.7,221.1 122.1,215.7 122.4,219.1 122.7,217.6 123.1,221.0 123.4,218.9 123.7,216.8 124.1,217.8 124.4,218.8 124.7,218.6 125.0,216.2 125.4,211.9 125.7,200.6 126.0,196.3 126.4,204.4 126.7,214.5 127.0,217.1 127.4,219.5 127.7,217.8 128.0,217.4 128.3,217.9 128.7,218.1 129.0,218.1 129.3,216.0 129.7,220.3 130.0,219.3 130.3,220.2 130.7,218.0 131.0,219.5 131.3,218.8 131.6,218.5 132.0,220.8 132.3,217.7 132.6,219.2 133.0,216.3 133.3,219.2 133.6,218.3 134.0,217.2 134.3,217.7 134.6,215.8 134.9,217.1 135.3,218.7 135.6,215.1 135.9,219.9 136.3,219.8 136.6,217.5 136.9,216.6 137.3,216.7 137.6,216.8 137.9,217.5 138.2,221.3 138.6,217.0 138.9,219.5 139.2,220.1 139.6,217.3 139.9,218.2 140.2,219.4 140.6,217.7 140.9,220.1 141.2,221.3 141.6,218.2 141.9,215.1 142.2,209.1 142.5,197.9 142.9,196.7 143.2,208.5 143.5,216.4 143.9,218.9 144.2,220.0 144.5,217.9 144.9,216.8 145.2,216.4 145.5,220.9 145.8,218.0 146.2,218.0 146.5,221.7 146.8,219.9 147.2,221.4 147.5,218.3 147.8,217.6 148.2,217.8 148.5,219.3 148.8,219.0 149.1,219.0 149.5,221.4 149.8,220.1 150.1,216.0 150.5,215.4 150.8,212.1 151.1,209.8 151.5,216.8 151.8,218.1 152.1,220.2 152.4,217.8 152.8,217.0 153.1,219.5 153.4,218.2 153.8,217.7 154.1,218.4 154.4,218.8 154.8,218.7 155.1,218.2 155.4,219.1 155.7,222.3 156.1,220.0 156.4,217.8 156.7,221.2 157.1,217.9 157.4,216.5 157.7,216.7 158.1,215.8 158.4,220.0 158.7,217.1 159.0,216.6 159.4,217.3 159.7,216.0 160.0,211.3 160.4,209.8 160.7,212.1 161.0,216.4 161.4,216.5 161.7,219.1 162.0,218.8 162.3,219.2 162.7,217.8 163.0,217.0 163.3,219.7 163.7,219.2 164.0,217.6 164.3,217.5 164.7,219.4 165.0,221.1 165.3,219.0 165.6,221.8 166.0,218.9 166.3,218.9 166.6,219.1 167.0,219.9 167.3,216.5 167.6,218.7 168.0,220.1 168.3,216.5 168.6,218.8 168.9,219.5 169.3,220.7 169.6,220.5 169.9,218.5 170.3,221.2 170.6,217.0 170.9,216.3 171.3,218.6 171.6,215.6 171.9,212.0 172.2,216.2" fill="none" stroke="#62a84a" stroke-width="0.95" stroke-linejoin="round"/><polyline points="37.6,237.8 37.9,237.8 38.3,239.2 38.6,237.0 38.9,238.6 39.2,237.0 39.6,239.5 39.9,238.8 40.2,239.7 40.6,238.3 40.9,239.0 41.2,238.5 41.6,238.1 41.9,238.8 42.2,237.7 42.5,238.4 42.9,239.2 43.2,238.7 43.5,238.4 43.9,240.3 44.2,238.7 44.5,238.2 44.9,238.8 45.2,238.3 45.5,238.4 45.8,238.4 46.2,240.2 46.5,238.6 46.8,238.6 47.2,238.7 47.5,239.2 47.8,236.9 48.2,235.9 48.5,237.9 48.8,235.2 49.1,236.7 49.5,238.1 49.8,239.8 50.1,237.6 50.5,236.6 50.8,238.9 51.1,238.0 51.5,238.1 51.8,238.7 52.1,238.5 52.4,238.5 52.8,237.9 53.1,239.2 53.4,239.3 53.8,238.2 54.1,237.8 54.4,238.6 54.8,238.4 55.1,237.2 55.4,237.6 55.7,238.7 56.1,237.7 56.4,237.5 56.7,237.9 57.1,237.6 57.4,237.6 57.7,236.1 58.1,238.8 58.4,237.6 58.7,236.7 59.0,238.0 59.4,237.5 59.7,237.2 60.0,237.9 60.4,238.8 60.7,237.5 61.0,238.2 61.4,238.6 61.7,236.1 62.0,236.5 62.3,237.4 62.7,235.5 63.0,236.6 63.3,237.7 63.7,237.5 64.0,237.2 64.3,235.3 64.7,238.5 65.0,237.1 65.3,237.3 65.6,237.1 66.0,235.4 66.3,235.7 66.6,235.8 67.0,238.2 67.3,236.2 67.6,236.7 68.0,236.7 68.3,237.3 68.6,237.3 68.9,237.2 69.3,236.1 69.6,234.7 69.9,237.3 70.3,237.4 70.6,238.2 70.9,237.2 71.3,236.9 71.6,237.7 71.9,236.3 72.2,236.8 72.6,236.8 72.9,237.9 73.2,239.3 73.6,238.3 73.9,238.7 74.2,238.0 74.6,238.1 74.9,237.4 75.2,237.2 75.5,235.0 75.9,234.9 76.2,233.8 76.5,234.8 76.9,235.0 77.2,236.4 77.5,237.8 77.9,237.3 78.2,238.9 78.5,239.8 78.8,238.4 79.2,239.3 79.5,238.3 79.8,237.3 80.2,238.6 80.5,237.9 80.8,238.6 81.2,238.2 81.5,238.8 81.8,237.0 82.1,240.2 82.5,239.6 82.8,238.4 83.1,238.0 83.5,238.6 83.8,239.2 84.1,239.0 84.5,239.0 84.8,237.2 85.1,237.8 85.4,239.7 85.8,238.9 86.1,237.5 86.4,238.0 86.8,237.6 87.1,237.9 87.4,239.6 87.8,238.5 88.1,239.5 88.4,238.8 88.7,237.4 89.1,237.6 89.4,238.4 89.7,232.9 90.1,228.3 90.4,226.4 90.7,225.1 91.1,228.2 91.4,233.8 91.7,234.8 92.0,238.2 92.4,237.7 92.7,237.6 93.0,238.1 93.4,239.6 93.7,238.6 94.0,237.3 94.4,237.9 94.7,239.9 95.0,239.5 95.3,237.9 95.7,240.6 96.0,238.4 96.3,237.8 96.7,238.6 97.0,239.4 97.3,239.9 97.7,239.5 98.0,238.4 98.3,238.3 98.6,237.6 99.0,238.6 99.3,238.2 99.6,238.9 100.0,237.7 100.3,238.3 100.6,238.0 101.0,237.8 101.3,237.8 101.6,237.9 101.9,237.8 102.3,239.1 102.6,238.8 102.9,237.7 103.3,239.1 103.6,238.9 103.9,239.8 104.3,238.6 104.6,238.5 104.9,238.2 105.2,238.8 105.6,239.1 105.9,238.8 106.2,238.5 106.6,239.1 106.9,238.8 107.2,238.9 107.6,238.0 107.9,238.8 108.2,237.9 108.5,237.9 108.9,238.3 109.2,238.9 109.5,236.7 109.9,234.2 110.2,232.8 110.5,233.6 110.9,234.9 111.2,236.5 111.5,236.9 111.8,238.2 112.2,238.2 112.5,238.4 112.8,238.0 113.2,238.5 113.5,237.0 113.8,237.8 114.2,239.0 114.5,238.0 114.8,239.1 115.1,237.7 115.5,238.4 115.8,239.0 116.1,237.9 116.5,238.2 116.8,240.6 117.1,238.2 117.5,238.2 117.8,238.3 118.1,238.7 118.4,238.7 118.8,239.5 119.1,239.3 119.4,238.4 119.8,238.4 120.1,237.6 120.4,237.6 120.8,238.1 121.1,239.3 121.4,238.8 121.7,239.3 122.1,239.4 122.4,238.6 122.7,240.3 123.1,238.3 123.4,238.2 123.7,238.4 124.1,239.6 124.4,238.6 124.7,238.1 125.0,239.0 125.4,239.6 125.7,238.6 126.0,238.5 126.4,239.5 126.7,239.5 127.0,239.4 127.4,238.1 127.7,238.9 128.0,239.0 128.3,237.3 128.7,239.6 129.0,238.8 129.3,238.4 129.7,240.4 130.0,238.8 130.3,238.1 130.7,238.7 131.0,239.1 131.3,239.3 131.6,238.7 132.0,238.0 132.3,238.2 132.6,238.1 133.0,237.9 133.3,238.7 133.6,238.3 134.0,238.7 134.3,238.1 134.6,238.0 134.9,238.6 135.3,238.4 135.6,239.6 135.9,238.0 136.3,238.9 136.6,238.7 136.9,237.7 137.3,239.3 137.6,238.8 137.9,237.1 138.2,239.2 138.6,239.4 138.9,238.1 139.2,240.0 139.6,238.8 139.9,237.8 140.2,239.1 140.6,238.4 140.9,237.7 141.2,237.1 141.6,238.9 141.9,238.1 142.2,239.2 142.5,239.0 142.9,238.3 143.2,238.3 143.5,240.0 143.9,239.9 144.2,239.1 144.5,237.9 144.9,236.6 145.2,235.8 145.5,235.8 145.8,233.4 146.2,232.0 146.5,231.6 146.8,233.9 147.2,234.7 147.5,236.8 147.8,238.4 148.2,239.2 148.5,238.7 148.8,238.4 149.1,238.9 149.5,240.1 149.8,239.0 150.1,237.6 150.5,239.9 150.8,238.9 151.1,241.4 151.5,238.3 151.8,238.6 152.1,238.5 152.4,239.0 152.8,238.3 153.1,237.6 153.4,237.2 153.8,238.6 154.1,238.3 154.4,238.3 154.8,240.3 155.1,239.3 155.4,239.5 155.7,238.3 156.1,238.9 156.4,238.5 156.7,238.5 157.1,239.3 157.4,239.2 157.7,238.9 158.1,238.8 158.4,237.4 158.7,237.6 159.0,237.4 159.4,234.7 159.7,231.5 160.0,229.4 160.4,227.0 160.7,228.1 161.0,232.0 161.4,234.1 161.7,237.8 162.0,238.3 162.3,239.1 162.7,239.5 163.0,237.0 163.3,238.6 163.7,237.7 164.0,238.3 164.3,238.6 164.7,239.6 165.0,238.7 165.3,239.9 165.6,238.3 166.0,238.7 166.3,238.8 166.6,239.4 167.0,238.7 167.3,238.2 167.6,238.4 168.0,237.6 168.3,239.7 168.6,239.3 168.9,239.0 169.3,238.9 169.6,238.2 169.9,238.4 170.3,239.3 170.6,238.1 170.9,238.1 171.3,239.9 171.6,239.9 171.9,238.9 172.2,239.1" fill="none" stroke="#c4c22e" stroke-width="0.95" stroke-linejoin="round"/><rect x="37.4" y="128.3" width="135.2" height="122" fill="none" stroke="#333" stroke-width="0.9"/><line x1="49.5" y1="250.3" x2="49.5" y2="248.5" stroke="#333" stroke-width="0.8"/><line x1="61.8" y1="250.3" x2="61.8" y2="249.2" stroke="#333" stroke-width="0.8"/><line x1="74.2" y1="250.3" x2="74.2" y2="248.5" stroke="#333" stroke-width="0.8"/><line x1="86.5" y1="250.3" x2="86.5" y2="249.2" stroke="#333" stroke-width="0.8"/><line x1="98.8" y1="250.3" x2="98.8" y2="248.5" stroke="#333" stroke-width="0.8"/><line x1="111.1" y1="250.3" x2="111.1" y2="249.2" stroke="#333" stroke-width="0.8"/><line x1="123.4" y1="250.3" x2="123.4" y2="248.5" stroke="#333" stroke-width="0.8"/><line x1="135.7" y1="250.3" x2="135.7" y2="249.2" stroke="#333" stroke-width="0.8"/><line x1="148.1" y1="250.3" x2="148.1" y2="248.5" stroke="#333" stroke-width="0.8"/><line x1="160.4" y1="250.3" x2="160.4" y2="249.2" stroke="#333" stroke-width="0.8"/><line x1="172.7" y1="250.3" x2="172.7" y2="248.5" stroke="#333" stroke-width="0.8"/><text x="49.5" y="261.6" font-size="8.3" fill="#111" text-anchor="middle" font-family="Liberation Sans, sans-serif" >20</text><text x="74.2" y="261.6" font-size="8.3" fill="#111" text-anchor="middle" font-family="Liberation Sans, sans-serif" >30</text><text x="98.8" y="261.6" font-size="8.3" fill="#111" text-anchor="middle" font-family="Liberation Sans, sans-serif" >40</text><text x="123.4" y="261.6" font-size="8.3" fill="#111" text-anchor="middle" font-family="Liberation Sans, sans-serif" >50</text><text x="148.1" y="261.6" font-size="8.3" fill="#111" text-anchor="middle" font-family="Liberation Sans, sans-serif" >60</text><text x="172.7" y="261.6" font-size="8.3" fill="#111" text-anchor="middle" font-family="Liberation Sans, sans-serif" >70</text><text x="105.4" y="277.1" font-size="10.2" fill="#1a1a1a" text-anchor="middle" font-family="Liberation Sans, sans-serif" textLength="79.4" lengthAdjust="spacingAndGlyphs" >2 Theta (Degree)</text><text x="0" y="0" font-size="10" fill="#1a1a1a" text-anchor="middle" font-family="Liberation Sans, sans-serif" transform="translate(30.9 189.4) rotate(-90)" textLength="64.7" lengthAdjust="spacingAndGlyphs">Intensity (a.u.)</text><circle cx="50.2" cy="131.6" r="0.8" fill="#111"/><text x="53.8" y="136.2" font-size="8.6" fill="#1a1a1a" text-anchor="start" font-family="Liberation Sans, sans-serif" >Co<tspan font-size="5.5" dy="1.6">3</tspan><tspan dy="-1.6">O</tspan><tspan font-size="5.5" dy="1.6">4</tspan></text><path d="M50.6 145.6 L48.4 142.96 A1.1 1.1 0 0 1 50.6 142.08 A1.1 1.1 0 0 1 52.800000000000004 142.96 Z" fill="#2e8fe0"/><text x="55" y="146.4" font-size="8.5" fill="#3a98e0" text-anchor="start" font-family="Liberation Sans, sans-serif" >Co(OH)<tspan font-size="5.5" dy="1.6">2</tspan></text><path d="M104 144.0 L105.8 145.8 L104 147.60000000000002 L102.2 145.8 Z" fill="#c02020"/><path d="M113.3 144.0 L115.1 145.8 L113.3 147.60000000000002 L111.5 145.8 Z" fill="#c02020"/><path d="M120.2 144.0 L122.0 145.8 L120.2 147.60000000000002 L118.4 145.8 Z" fill="#c02020"/><path d="M146.5 134.2 L148.3 136 L146.5 137.8 L144.7 136 Z" fill="#c02020"/><text x="150.5" y="139" font-size="8.2" fill="#c02020" text-anchor="start" font-family="Liberation Sans, sans-serif" >Co</text><path d="M49.5 208.0 L47.3 205.36 A1.1 1.1 0 0 1 49.5 204.48000000000002 A1.1 1.1 0 0 1 51.7 205.36 Z" fill="#2e8fe0"/><path d="M82 208.0 L79.8 205.36 A1.1 1.1 0 0 1 82 204.48000000000002 A1.1 1.1 0 0 1 84.2 205.36 Z" fill="#2e8fe0"/><path d="M96.7 208.0 L94.5 205.36 A1.1 1.1 0 0 1 96.7 204.48000000000002 A1.1 1.1 0 0 1 98.9 205.36 Z" fill="#2e8fe0"/><path d="M130 208.0 L127.8 205.36 A1.1 1.1 0 0 1 130 204.48000000000002 A1.1 1.1 0 0 1 132.2 205.36 Z" fill="#2e8fe0"/><path d="M139 208.0 L136.8 205.36 A1.1 1.1 0 0 1 139 204.48000000000002 A1.1 1.1 0 0 1 141.2 205.36 Z" fill="#2e8fe0"/><path d="M153.2 208.0 L151.0 205.36 A1.1 1.1 0 0 1 153.2 204.48000000000002 A1.1 1.1 0 0 1 155.39999999999998 205.36 Z" fill="#2e8fe0"/><path d="M168.3 208.0 L166.10000000000002 205.36 A1.1 1.1 0 0 1 168.3 204.48000000000002 A1.1 1.1 0 0 1 170.5 205.36 Z" fill="#2e8fe0"/><circle cx="49.5" cy="232.3" r="1" fill="#222"/><circle cx="75.6" cy="232.3" r="1" fill="#222"/><circle cx="88" cy="232.3" r="1" fill="#222"/><circle cx="112.5" cy="232.3" r="1" fill="#222"/><circle cx="148.8" cy="232.3" r="1" fill="#222"/><circle cx="163.8" cy="232.3" r="1" fill="#222"/><text x="174.3" y="156.8" font-size="7.8" fill="#4232a6" text-anchor="start" font-family="Liberation Sans, sans-serif" >-250 mV</text><text x="174.3" y="178" font-size="7.8" fill="#2f6482" text-anchor="start" font-family="Liberation Sans, sans-serif" >-200 mV</text><text x="174.3" y="199.2" font-size="7.8" fill="#2a8a6a" text-anchor="start" font-family="Liberation Sans, sans-serif" >-100 mV</text><text x="173.8" y="220.4" font-size="7.8" fill="#62a84a" text-anchor="start" font-family="Liberation Sans, sans-serif" >0 mV</text><text x="173.7" y="241.7" font-size="7.8" fill="#c4c22e" text-anchor="start" font-family="Liberation Sans, sans-serif" >Pristine</text><defs><linearGradient id="gla" x1="0" x2="1"><stop offset="0" stop-color="#108060" stop-opacity="0"/><stop offset="0.25" stop-color="#10a040" stop-opacity="0.7"/><stop offset="0.45" stop-color="#30b020"/><stop offset="0.65" stop-color="#a0d020"/><stop offset="0.75" stop-color="#f0f020"/><stop offset="1" stop-color="#f0e020"/></linearGradient><linearGradient id="glb" x1="0" x2="1"><stop offset="0" stop-color="#108060" stop-opacity="0"/><stop offset="0.15" stop-color="#10a040" stop-opacity="0.7"/><stop offset="0.6" stop-color="#30b020"/><stop offset="0.67" stop-color="#d0e020"/><stop offset="0.76" stop-color="#f0a020"/><stop offset="0.85" stop-color="#e83818"/><stop offset="0.94" stop-color="#f0a020"/><stop offset="1" stop-color="#e8e020"/></linearGradient><linearGradient id="glc" x1="0" x2="1"><stop offset="0" stop-color="#10a040" stop-opacity="0"/><stop offset="0.3" stop-color="#20a030"/><stop offset="1" stop-color="#50c020"/></linearGradient><linearGradient id="gr1" x1="0" x2="1"><stop offset="0" stop-color="#e8a020"/><stop offset="0.4" stop-color="#e04018"/><stop offset="0.5" stop-color="#e8a020"/><stop offset="1" stop-color="#e0e020"/></linearGradient></defs><rect x="242.1" y="135" width="87.29999999999998" height="73.8" fill="#0b0d6c"/><rect x="242.1" y="136.6" width="87.29999999999998" height="1.2" fill="#30a030" opacity="0.95"/><rect x="242.1" y="153.75" width="87.29999999999998" height="1.5" fill="#b8d838" opacity="1"/><rect x="242.1" y="155.55" width="87.29999999999998" height="1.7" fill="#e04418" opacity="1"/><rect x="242.1" y="157.2" width="87.29999999999998" height="0.6" fill="#e89020" opacity="0.8"/><rect x="242.1" y="163.20000000000002" width="87.29999999999998" height="1.4" fill="#a8d030" opacity="1"/><rect x="242.1" y="169.35" width="87.29999999999998" height="1.3" fill="#38a030" opacity="1"/><rect x="242.1" y="180.75" width="87.29999999999998" height="1.3" fill="url(#gr1)" opacity="1"/><polygon points="295,189.8 310,188.6 318,187.9 329.4,187.8 329.4,191.9 318,191.7 310,191 295,190.2" fill="url(#gla)" filter="url(#blur04)"/><polygon points="277.5,196.1 300,195.4 312,194.8 329.4,194.5 329.4,197.9 312,197.6 300,197 277.5,196.5" fill="url(#glb)" filter="url(#blur04)"/><rect x="338.3" y="135" width="84.30000000000001" height="73.8" fill="#0b0d6c"/><rect x="338.3" y="137.8" width="84.30000000000001" height="1" fill="#208a40" opacity="0.85"/><rect x="338.3" y="154.35" width="84.30000000000001" height="1.3" fill="#b0d030" opacity="1"/><rect x="338.3" y="156.3" width="84.30000000000001" height="1.4" fill="#e85a14" opacity="1"/><rect x="338.3" y="164.14999999999998" width="84.30000000000001" height="1.1" fill="#40a040" opacity="1"/><rect x="338.3" y="170.0" width="84.30000000000001" height="1" fill="#30983a" opacity="0.9"/><rect x="338.3" y="180.95" width="84.30000000000001" height="1.5" fill="#c0d030" opacity="1"/><polygon points="386,196.7 400,196 422.6,195.6 422.6,197.9 400,197.5 386,196.9" fill="url(#glc)" filter="url(#blur04)"/><rect x="388" y="190" width="34.6" height="0.8" fill="#2040b0" opacity="0.45"/><text x="261.4" y="140.7" font-size="5.8" fill="#e8e8f4" text-anchor="start" font-family="Liberation Sans, sans-serif" textLength="30.4" lengthAdjust="spacingAndGlyphs" >Co<tspan font-size="3.8" dy="1.1">3</tspan><tspan dy="-1.1">O</tspan><tspan font-size="3.8" dy="1.1">4</tspan><tspan dy="-1.1"> (400)</tspan></text><text x="260.9" y="149.8" font-size="5.8" fill="#e8e8f4" text-anchor="start" font-family="Liberation Sans, sans-serif" textLength="30.4" lengthAdjust="spacingAndGlyphs" >Co<tspan font-size="3.8" dy="1.1">3</tspan><tspan dy="-1.1">O</tspan><tspan font-size="3.8" dy="1.1">4</tspan><tspan dy="-1.1"> (222)</tspan></text><text x="260.8" y="162.2" font-size="5.8" fill="#e8e8f4" text-anchor="start" font-family="Liberation Sans, sans-serif" textLength="30.4" lengthAdjust="spacingAndGlyphs" >Co<tspan font-size="3.8" dy="1.1">3</tspan><tspan dy="-1.1">O</tspan><tspan font-size="3.8" dy="1.1">4</tspan><tspan dy="-1.1"> (311)</tspan></text><text x="261.8" y="176.8" font-size="5.8" fill="#e8e8f4" text-anchor="start" font-family="Liberation Sans, sans-serif" textLength="30.4" lengthAdjust="spacingAndGlyphs" >Co<tspan font-size="3.8" dy="1.1">3</tspan><tspan dy="-1.1">O</tspan><tspan font-size="3.8" dy="1.1">4</tspan><tspan dy="-1.1"> (220)</tspan></text><path d="M292.3 147.5 L298.6 151.6 M293 160.3 L299.7 156.4 M293.9 173.9 L302.2 170" stroke="#d8d8e8" stroke-width="0.5"/><text x="265" y="190.2" font-size="5.8" fill="#e8e8f4" text-anchor="start" font-family="Liberation Sans, sans-serif" textLength="24.5" lengthAdjust="spacingAndGlyphs" ><tspan font-style="italic">α</tspan>- CoOOH</text><text x="247.6" y="199" font-size="5.8" fill="#e8e8f4" text-anchor="start" font-family="Liberation Sans, sans-serif" textLength="26.4" lengthAdjust="spacingAndGlyphs" ><tspan font-style="italic">β</tspan>- CoOOH</text><text x="256.5" y="132" font-size="6.2" fill="#e23ca8" text-anchor="start" font-family="Liberation Sans, sans-serif" textLength="61.9" lengthAdjust="spacingAndGlyphs" >0.5 M KOH (pH =13.6)</text><text x="342.9" y="131.9" font-size="6.2" fill="#f0a030" text-anchor="start" font-family="Liberation Sans, sans-serif" textLength="68.7" lengthAdjust="spacingAndGlyphs" >0.5 M Na<tspan font-size="4.2" dy="1">2</tspan><tspan dy="-1">SO</tspan><tspan font-size="4.2" dy="1">4</tspan><tspan dy="-1"> (pH = 6.5)</tspan></text><text x="237" y="142.39999999999998" font-size="6.3" fill="#2f2fe0" text-anchor="end" font-family="Liberation Sans, sans-serif" >3.0</text><line x1="240.5" y1="140.2" x2="242" y2="140.2" stroke="#333" stroke-width="0.5"/><text x="237" y="159.39999999999998" font-size="6.3" fill="#2f2fe0" text-anchor="end" font-family="Liberation Sans, sans-serif" >2.5</text><line x1="240.5" y1="157.2" x2="242" y2="157.2" stroke="#333" stroke-width="0.5"/><text x="237" y="177.0" font-size="6.3" fill="#2f2fe0" text-anchor="end" font-family="Liberation Sans, sans-serif" >2.0</text><line x1="240.5" y1="174.8" x2="242" y2="174.8" stroke="#333" stroke-width="0.5"/><text x="237" y="194.79999999999998" font-size="6.3" fill="#2f2fe0" text-anchor="end" font-family="Liberation Sans, sans-serif" >1.5</text><line x1="240.5" y1="192.6" x2="242" y2="192.6" stroke="#333" stroke-width="0.5"/><text x="0" y="0" font-size="6.6" fill="#2f2fe0" text-anchor="middle" font-family="Liberation Sans, sans-serif" transform="translate(222.4 166.5) rotate(-90)">q(Å<tspan font-size="4.4" dy="-2.4">-1</tspan><tspan dy="2.4">)</tspan></text><text x="431.9" y="157.4" font-size="6.3" fill="#3535e6" text-anchor="start" font-family="Liberation Sans, sans-serif" textLength="28.7" lengthAdjust="spacingAndGlyphs" stroke="#3535e6" stroke-width="0.15">FTO (200)</text><text x="431.9" y="166.3" font-size="6.3" fill="#3535e6" text-anchor="start" font-family="Liberation Sans, sans-serif" textLength="28.7" lengthAdjust="spacingAndGlyphs" stroke="#3535e6" stroke-width="0.15">FTO (101)</text><text x="431.9" y="183.8" font-size="6.3" fill="#3535e6" text-anchor="start" font-family="Liberation Sans, sans-serif" textLength="28.7" lengthAdjust="spacingAndGlyphs" stroke="#3535e6" stroke-width="0.15">FTO (110)</text><path d="M422.6 154.7 L429.8 154.7 M422.6 164.4 L429.8 164.2 M422.6 181.3 L429.8 181.1" stroke="#3a3ae6" stroke-width="0.6"/><defs><linearGradient id="jet" x1="0" y1="0" x2="0" y2="1"><stop offset="0" stop-color="#200000"/><stop offset="0.15" stop-color="#b00000"/><stop offset="0.3" stop-color="#f03000"/><stop offset="0.45" stop-color="#f0a000"/><stop offset="0.58" stop-color="#e0e000"/><stop offset="0.7" stop-color="#40b000"/><stop offset="0.82" stop-color="#008060"/><stop offset="0.92" stop-color="#0030a0"/><stop offset="1" stop-color="#000060"/></linearGradient></defs><rect x="430.2" y="188.3" width="2.7" height="41.7" fill="url(#jet)"/><text x="435" y="196.6" font-size="5.4" fill="#222" text-anchor="start" font-family="Liberation Sans, sans-serif" >15</text><text x="435" y="207" font-size="5.4" fill="#222" text-anchor="start" font-family="Liberation Sans, sans-serif" >10</text><text x="435" y="217.4" font-size="5.4" fill="#222" text-anchor="start" font-family="Liberation Sans, sans-serif" >5</text><text x="435" y="229.5" font-size="5.4" fill="#222" text-anchor="start" font-family="Liberation Sans, sans-serif" >0</text><rect x="285" y="221" width="44" height="39.2" fill="#edf2ec"/><path d="M242.2 256.5 L255 256.2 L262 255.3 L270 255.6 L276 255.2 L281 254 L285 251.8 L329 215.6" fill="none" stroke="#e8409c" stroke-width="1.3"/><path d="M242.2 208.5 L242.2 260.2 L329 260.2 L329 208.5" fill="none" stroke="#555" stroke-width="0.6"/><rect x="389.7" y="221" width="32.900000000000034" height="39.2" fill="#edf2ec"/><path d="M338.3 256.2 L370 256 L380 255 L390 252.6 L396 250.5 L410 242 L422.3 233.3" fill="none" stroke="#f0a040" stroke-width="1.3"/><path d="M338.3 208.5 L338.3 260.2 L422.6 260.2 L422.6 208.5" fill="none" stroke="#555" stroke-width="0.6"/><path d="M285 220.3 L318 220.3" stroke="#6a9a70" stroke-width="0.9"/><path d="M319.5 220.3 L316.5 219 L316.5 221.6 Z" fill="#6a9a70"/><text x="283.6" y="216.8" font-size="6.7" fill="#30a040" text-anchor="start" font-family="Liberation Sans, sans-serif" stroke="#30a040" stroke-width="0.15">O<tspan font-size="4.2" dy="1.2">2</tspan><tspan dy="-1.2"> evolution</tspan></text><path d="M389.7 220.3 L419 220.3" stroke="#6a9a70" stroke-width="0.9"/><path d="M420.5 220.3 L417.5 219 L417.5 221.6 Z" fill="#6a9a70"/><text x="382.8" y="216.8" font-size="6.7" fill="#30a040" text-anchor="start" font-family="Liberation Sans, sans-serif" stroke="#30a040" stroke-width="0.15">O<tspan font-size="4.2" dy="1.2">2</tspan><tspan dy="-1.2"> evolution</tspan></text><text x="237.4" y="217.79999999999998" font-size="6.2" fill="#222" text-anchor="end" font-family="Liberation Sans, sans-serif" >30</text><line x1="242.2" y1="215.6" x2="243.4" y2="215.6" stroke="#555" stroke-width="0.5"/><text x="237.4" y="231.1" font-size="6.2" fill="#222" text-anchor="end" font-family="Liberation Sans, sans-serif" >20</text><line x1="242.2" y1="228.9" x2="243.4" y2="228.9" stroke="#555" stroke-width="0.5"/><text x="237.4" y="244.0" font-size="6.2" fill="#222" text-anchor="end" font-family="Liberation Sans, sans-serif" >10</text><line x1="242.2" y1="241.8" x2="243.4" y2="241.8" stroke="#555" stroke-width="0.5"/><text x="237.4" y="257.3" font-size="6.2" fill="#222" text-anchor="end" font-family="Liberation Sans, sans-serif" >0</text><line x1="242.2" y1="255.1" x2="243.4" y2="255.1" stroke="#555" stroke-width="0.5"/><text x="0" y="0" font-size="6.3" fill="#222" text-anchor="middle" font-family="Liberation Sans, sans-serif" transform="translate(217.4 234.1) rotate(-90)" textLength="43" lengthAdjust="spacingAndGlyphs">Current density</text><text x="0" y="0" font-size="6.3" fill="#222" text-anchor="middle" font-family="Liberation Sans, sans-serif" transform="translate(224.9 235) rotate(-90)">(mA cm<tspan font-size="4.2" dy="-2.2">-2</tspan><tspan dy="2.2">)</tspan></text><text x="257.8" y="268" font-size="6.2" fill="#222" text-anchor="middle" font-family="Liberation Sans, sans-serif" >1.00</text><line x1="257.8" y1="260.2" x2="257.8" y2="259" stroke="#555" stroke-width="0.5"/><text x="278.0" y="268" font-size="6.2" fill="#222" text-anchor="middle" font-family="Liberation Sans, sans-serif" >1.50</text><line x1="278.0" y1="260.2" x2="278.0" y2="259" stroke="#555" stroke-width="0.5"/><text x="298.2" y="268" font-size="6.2" fill="#222" text-anchor="middle" font-family="Liberation Sans, sans-serif" >2.00</text><line x1="298.2" y1="260.2" x2="298.2" y2="259" stroke="#555" stroke-width="0.5"/><text x="318.0" y="268" font-size="6.2" fill="#222" text-anchor="middle" font-family="Liberation Sans, sans-serif" >2.50</text><line x1="318.0" y1="260.2" x2="318.0" y2="259" stroke="#555" stroke-width="0.5"/><text x="355.0" y="268" font-size="6.2" fill="#222" text-anchor="middle" font-family="Liberation Sans, sans-serif" >1.00</text><line x1="355.0" y1="260.2" x2="355.0" y2="259" stroke="#555" stroke-width="0.5"/><text x="373.0" y="268" font-size="6.2" fill="#222" text-anchor="middle" font-family="Liberation Sans, sans-serif" >1.50</text><line x1="373.0" y1="260.2" x2="373.0" y2="259" stroke="#555" stroke-width="0.5"/><text x="391.0" y="268" font-size="6.2" fill="#222" text-anchor="middle" font-family="Liberation Sans, sans-serif" >2.00</text><line x1="391.0" y1="260.2" x2="391.0" y2="259" stroke="#555" stroke-width="0.5"/><text x="409.0" y="268" font-size="6.2" fill="#222" text-anchor="middle" font-family="Liberation Sans, sans-serif" >2.50</text><line x1="409.0" y1="260.2" x2="409.0" y2="259" stroke="#555" stroke-width="0.5"/><text x="285" y="277.8" font-size="6.6" fill="#222" text-anchor="middle" font-family="Liberation Sans, sans-serif" textLength="69.7" lengthAdjust="spacingAndGlyphs" >Voltage (V versus RHE)</text><text x="379.6" y="277.4" font-size="6.6" fill="#222" text-anchor="middle" font-family="Liberation Sans, sans-serif" textLength="68.7" lengthAdjust="spacingAndGlyphs" >Voltage (V versus RHE)</text><polygon points="470,141 488,136 504,137 510,158 518,185 515,196 486,197 478,172 469,152" fill="#d0d0dc" opacity="0.3" filter="url(#blur06)"/><circle cx="478.1" cy="142.2" r="0.7" fill="#e060a8"/><circle cx="491.4" cy="140.0" r="0.7" fill="#e060a8"/><circle cx="500.8" cy="140.8" r="0.7" fill="#e060a8"/><circle cx="473.6" cy="146.4" r="0.7" fill="#e060a8"/><circle cx="486.9" cy="143.8" r="0.7" fill="#e060a8"/><circle cx="495.8" cy="146.4" r="0.7" fill="#e060a8"/><circle cx="502.5" cy="147.5" r="0.7" fill="#e060a8"/><circle cx="481.9" cy="149.1" r="0.7" fill="#e060a8"/><circle cx="489.2" cy="150.2" r="0.7" fill="#e060a8"/><circle cx="474.7" cy="152.7" r="0.7" fill="#e060a8"/><circle cx="496.9" cy="153.0" r="0.7" fill="#e060a8"/><circle cx="484.2" cy="155.6" r="0.7" fill="#e060a8"/><circle cx="490.3" cy="157.1" r="0.7" fill="#e060a8"/><circle cx="503.1" cy="154.7" r="0.7" fill="#e060a8"/><circle cx="496.4" cy="159.7" r="0.7" fill="#e060a8"/><circle cx="483.1" cy="162.5" r="0.7" fill="#e060a8"/><circle cx="491.4" cy="163.6" r="0.7" fill="#e060a8"/><circle cx="504.2" cy="160.8" r="0.7" fill="#e060a8"/><circle cx="499.2" cy="166.4" r="0.7" fill="#e060a8"/><circle cx="510.2" cy="157.4" r="0.7" fill="#e060a8"/><circle cx="512.5" cy="163.6" r="0.7" fill="#e060a8"/><circle cx="507.0" cy="166.7" r="0.7" fill="#e060a8"/><circle cx="483.9" cy="169.2" r="0.7" fill="#e060a8"/><circle cx="497.2" cy="167.0" r="0.7" fill="#e060a8"/><circle cx="506.6" cy="167.8" r="0.7" fill="#e060a8"/><circle cx="479.4" cy="173.4" r="0.7" fill="#e060a8"/><circle cx="492.7" cy="170.8" r="0.7" fill="#e060a8"/><circle cx="501.6" cy="173.4" r="0.7" fill="#e060a8"/><circle cx="508.3" cy="174.5" r="0.7" fill="#e060a8"/><circle cx="487.7" cy="176.1" r="0.7" fill="#e060a8"/><circle cx="495.0" cy="177.2" r="0.7" fill="#e060a8"/><circle cx="480.5" cy="179.7" r="0.7" fill="#e060a8"/><circle cx="502.7" cy="180.0" r="0.7" fill="#e060a8"/><circle cx="490.0" cy="182.6" r="0.7" fill="#e060a8"/><circle cx="496.1" cy="184.1" r="0.7" fill="#e060a8"/><circle cx="508.9" cy="181.7" r="0.7" fill="#e060a8"/><circle cx="502.2" cy="186.7" r="0.7" fill="#e060a8"/><circle cx="488.9" cy="189.5" r="0.7" fill="#e060a8"/><circle cx="497.2" cy="190.6" r="0.7" fill="#e060a8"/><circle cx="510.0" cy="187.8" r="0.7" fill="#e060a8"/><circle cx="505.0" cy="193.4" r="0.7" fill="#e060a8"/><circle cx="516.0" cy="184.4" r="0.7" fill="#e060a8"/><circle cx="518.3" cy="190.6" r="0.7" fill="#e060a8"/><circle cx="512.8" cy="193.7" r="0.7" fill="#e060a8"/><circle cx="475.30" cy="140.40" r="1.3" fill="#1a1aa4" stroke="#5a5ad0" stroke-width="0.4"/><circle cx="477.90" cy="140.40" r="1.3" fill="#1a1aa4" stroke="#5a5ad0" stroke-width="0.4"/><circle cx="488.60" cy="138.20" r="1.3" fill="#1a1aa4" stroke="#5a5ad0" stroke-width="0.4"/><circle cx="491.20" cy="138.20" r="1.3" fill="#1a1aa4" stroke="#5a5ad0" stroke-width="0.4"/><circle cx="498.00" cy="139.00" r="1.3" fill="#1a1aa4" stroke="#5a5ad0" stroke-width="0.4"/><circle cx="500.60" cy="139.00" r="1.3" fill="#1a1aa4" stroke="#5a5ad0" stroke-width="0.4"/><circle cx="469.50" cy="144.60" r="1.3" fill="#1a1aa4" stroke="#5a5ad0" stroke-width="0.4"/><circle cx="472.10" cy="144.60" r="1.3" fill="#1a1aa4" stroke="#5a5ad0" stroke-width="0.4"/><circle cx="474.70" cy="144.60" r="1.3" fill="#1a1aa4" stroke="#5a5ad0" stroke-width="0.4"/><circle cx="482.80" cy="142.00" r="1.3" fill="#1a1aa4" stroke="#5a5ad0" stroke-width="0.4"/><circle cx="485.40" cy="142.00" r="1.3" fill="#1a1aa4" stroke="#5a5ad0" stroke-width="0.4"/><circle cx="488.00" cy="142.00" r="1.3" fill="#1a1aa4" stroke="#5a5ad0" stroke-width="0.4"/><circle cx="493.00" cy="144.60" r="1.3" fill="#1a1aa4" stroke="#5a5ad0" stroke-width="0.4"/><circle cx="495.60" cy="144.60" r="1.3" fill="#1a1aa4" stroke="#5a5ad0" stroke-width="0.4"/><circle cx="499.70" cy="145.70" r="1.3" fill="#1a1aa4" stroke="#5a5ad0" stroke-width="0.4"/><circle cx="502.30" cy="145.70" r="1.3" fill="#1a1aa4" stroke="#5a5ad0" stroke-width="0.4"/><circle cx="479.10" cy="147.30" r="1.3" fill="#1a1aa4" stroke="#5a5ad0" stroke-width="0.4"/><circle cx="481.70" cy="147.30" r="1.3" fill="#1a1aa4" stroke="#5a5ad0" stroke-width="0.4"/><circle cx="485.10" cy="148.40" r="1.3" fill="#1a1aa4" stroke="#5a5ad0" stroke-width="0.4"/><circle cx="487.70" cy="148.40" r="1.3" fill="#1a1aa4" stroke="#5a5ad0" stroke-width="0.4"/><circle cx="490.30" cy="148.40" r="1.3" fill="#1a1aa4" stroke="#5a5ad0" stroke-width="0.4"/><circle cx="471.90" cy="150.90" r="1.3" fill="#1a1aa4" stroke="#5a5ad0" stroke-width="0.4"/><circle cx="474.50" cy="150.90" r="1.3" fill="#1a1aa4" stroke="#5a5ad0" stroke-width="0.4"/><circle cx="492.80" cy="151.20" r="1.3" fill="#1a1aa4" stroke="#5a5ad0" stroke-width="0.4"/><circle cx="495.40" cy="151.20" r="1.3" fill="#1a1aa4" stroke="#5a5ad0" stroke-width="0.4"/><circle cx="498.00" cy="151.20" r="1.3" fill="#1a1aa4" stroke="#5a5ad0" stroke-width="0.4"/><circle cx="480.10" cy="153.80" r="1.3" fill="#1a1aa4" stroke="#5a5ad0" stroke-width="0.4"/><circle cx="482.70" cy="153.80" r="1.3" fill="#1a1aa4" stroke="#5a5ad0" stroke-width="0.4"/><circle cx="485.30" cy="153.80" r="1.3" fill="#1a1aa4" stroke="#5a5ad0" stroke-width="0.4"/><circle cx="487.50" cy="155.30" r="1.3" fill="#1a1aa4" stroke="#5a5ad0" stroke-width="0.4"/><circle cx="490.10" cy="155.30" r="1.3" fill="#1a1aa4" stroke="#5a5ad0" stroke-width="0.4"/><circle cx="500.30" cy="152.90" r="1.3" fill="#1a1aa4" stroke="#5a5ad0" stroke-width="0.4"/><circle cx="502.90" cy="152.90" r="1.3" fill="#1a1aa4" stroke="#5a5ad0" stroke-width="0.4"/><circle cx="492.30" cy="157.90" r="1.3" fill="#1a1aa4" stroke="#5a5ad0" stroke-width="0.4"/><circle cx="494.90" cy="157.90" r="1.3" fill="#1a1aa4" stroke="#5a5ad0" stroke-width="0.4"/><circle cx="497.50" cy="157.90" r="1.3" fill="#1a1aa4" stroke="#5a5ad0" stroke-width="0.4"/><circle cx="479.00" cy="160.70" r="1.3" fill="#1a1aa4" stroke="#5a5ad0" stroke-width="0.4"/><circle cx="481.60" cy="160.70" r="1.3" fill="#1a1aa4" stroke="#5a5ad0" stroke-width="0.4"/><circle cx="484.20" cy="160.70" r="1.3" fill="#1a1aa4" stroke="#5a5ad0" stroke-width="0.4"/><circle cx="487.30" cy="161.80" r="1.3" fill="#1a1aa4" stroke="#5a5ad0" stroke-width="0.4"/><circle cx="489.90" cy="161.80" r="1.3" fill="#1a1aa4" stroke="#5a5ad0" stroke-width="0.4"/><circle cx="492.50" cy="161.80" r="1.3" fill="#1a1aa4" stroke="#5a5ad0" stroke-width="0.4"/><circle cx="501.40" cy="159.00" r="1.3" fill="#1a1aa4" stroke="#5a5ad0" stroke-width="0.4"/><circle cx="504.00" cy="159.00" r="1.3" fill="#1a1aa4" stroke="#5a5ad0" stroke-width="0.4"/><circle cx="496.40" cy="164.60" r="1.3" fill="#1a1aa4" stroke="#5a5ad0" stroke-width="0.4"/><circle cx="499.00" cy="164.60" r="1.3" fill="#1a1aa4" stroke="#5a5ad0" stroke-width="0.4"/><circle cx="507.40" cy="155.60" r="1.3" fill="#1a1aa4" stroke="#5a5ad0" stroke-width="0.4"/><circle cx="510.00" cy="155.60" r="1.3" fill="#1a1aa4" stroke="#5a5ad0" stroke-width="0.4"/><circle cx="509.70" cy="161.80" r="1.3" fill="#1a1aa4" stroke="#5a5ad0" stroke-width="0.4"/><circle cx="512.30" cy="161.80" r="1.3" fill="#1a1aa4" stroke="#5a5ad0" stroke-width="0.4"/><circle cx="504.20" cy="164.90" r="1.3" fill="#1a1aa4" stroke="#5a5ad0" stroke-width="0.4"/><circle cx="506.80" cy="164.90" r="1.3" fill="#1a1aa4" stroke="#5a5ad0" stroke-width="0.4"/><circle cx="481.10" cy="167.40" r="1.3" fill="#1a1aa4" stroke="#5a5ad0" stroke-width="0.4"/><circle cx="483.70" cy="167.40" r="1.3" fill="#1a1aa4" stroke="#5a5ad0" stroke-width="0.4"/><circle cx="494.40" cy="165.20" r="1.3" fill="#1a1aa4" stroke="#5a5ad0" stroke-width="0.4"/><circle cx="497.00" cy="165.20" r="1.3" fill="#1a1aa4" stroke="#5a5ad0" stroke-width="0.4"/><circle cx="503.80" cy="166.00" r="1.3" fill="#1a1aa4" stroke="#5a5ad0" stroke-width="0.4"/><circle cx="506.40" cy="166.00" r="1.3" fill="#1a1aa4" stroke="#5a5ad0" stroke-width="0.4"/><circle cx="475.30" cy="171.60" r="1.3" fill="#1a1aa4" stroke="#5a5ad0" stroke-width="0.4"/><circle cx="477.90" cy="171.60" r="1.3" fill="#1a1aa4" stroke="#5a5ad0" stroke-width="0.4"/><circle cx="480.50" cy="171.60" r="1.3" fill="#1a1aa4" stroke="#5a5ad0" stroke-width="0.4"/><circle cx="488.60" cy="169.00" r="1.3" fill="#1a1aa4" stroke="#5a5ad0" stroke-width="0.4"/><circle cx="491.20" cy="169.00" r="1.3" fill="#1a1aa4" stroke="#5a5ad0" stroke-width="0.4"/><circle cx="493.80" cy="169.00" r="1.3" fill="#1a1aa4" stroke="#5a5ad0" stroke-width="0.4"/><circle cx="498.80" cy="171.60" r="1.3" fill="#1a1aa4" stroke="#5a5ad0" stroke-width="0.4"/><circle cx="501.40" cy="171.60" r="1.3" fill="#1a1aa4" stroke="#5a5ad0" stroke-width="0.4"/><circle cx="505.50" cy="172.70" r="1.3" fill="#1a1aa4" stroke="#5a5ad0" stroke-width="0.4"/><circle cx="508.10" cy="172.70" r="1.3" fill="#1a1aa4" stroke="#5a5ad0" stroke-width="0.4"/><circle cx="484.90" cy="174.30" r="1.3" fill="#1a1aa4" stroke="#5a5ad0" stroke-width="0.4"/><circle cx="487.50" cy="174.30" r="1.3" fill="#1a1aa4" stroke="#5a5ad0" stroke-width="0.4"/><circle cx="490.90" cy="175.40" r="1.3" fill="#1a1aa4" stroke="#5a5ad0" stroke-width="0.4"/><circle cx="493.50" cy="175.40" r="1.3" fill="#1a1aa4" stroke="#5a5ad0" stroke-width="0.4"/><circle cx="496.10" cy="175.40" r="1.3" fill="#1a1aa4" stroke="#5a5ad0" stroke-width="0.4"/><circle cx="477.70" cy="177.90" r="1.3" fill="#1a1aa4" stroke="#5a5ad0" stroke-width="0.4"/><circle cx="480.30" cy="177.90" r="1.3" fill="#1a1aa4" stroke="#5a5ad0" stroke-width="0.4"/><circle cx="498.60" cy="178.20" r="1.3" fill="#1a1aa4" stroke="#5a5ad0" stroke-width="0.4"/><circle cx="501.20" cy="178.20" r="1.3" fill="#1a1aa4" stroke="#5a5ad0" stroke-width="0.4"/><circle cx="503.80" cy="178.20" r="1.3" fill="#1a1aa4" stroke="#5a5ad0" stroke-width="0.4"/><circle cx="485.90" cy="180.80" r="1.3" fill="#1a1aa4" stroke="#5a5ad0" stroke-width="0.4"/><circle cx="488.50" cy="180.80" r="1.3" fill="#1a1aa4" stroke="#5a5ad0" stroke-width="0.4"/><circle cx="491.10" cy="180.80" r="1.3" fill="#1a1aa4" stroke="#5a5ad0" stroke-width="0.4"/><circle cx="493.30" cy="182.30" r="1.3" fill="#1a1aa4" stroke="#5a5ad0" stroke-width="0.4"/><circle cx="495.90" cy="182.30" r="1.3" fill="#1a1aa4" stroke="#5a5ad0" stroke-width="0.4"/><circle cx="506.10" cy="179.90" r="1.3" fill="#1a1aa4" stroke="#5a5ad0" stroke-width="0.4"/><circle cx="508.70" cy="179.90" r="1.3" fill="#1a1aa4" stroke="#5a5ad0" stroke-width="0.4"/><circle cx="498.10" cy="184.90" r="1.3" fill="#1a1aa4" stroke="#5a5ad0" stroke-width="0.4"/><circle cx="500.70" cy="184.90" r="1.3" fill="#1a1aa4" stroke="#5a5ad0" stroke-width="0.4"/><circle cx="503.30" cy="184.90" r="1.3" fill="#1a1aa4" stroke="#5a5ad0" stroke-width="0.4"/><circle cx="484.80" cy="187.70" r="1.3" fill="#1a1aa4" stroke="#5a5ad0" stroke-width="0.4"/><circle cx="487.40" cy="187.70" r="1.3" fill="#1a1aa4" stroke="#5a5ad0" stroke-width="0.4"/><circle cx="490.00" cy="187.70" r="1.3" fill="#1a1aa4" stroke="#5a5ad0" stroke-width="0.4"/><circle cx="493.10" cy="188.80" r="1.3" fill="#1a1aa4" stroke="#5a5ad0" stroke-width="0.4"/><circle cx="495.70" cy="188.80" r="1.3" fill="#1a1aa4" stroke="#5a5ad0" stroke-width="0.4"/><circle cx="498.30" cy="188.80" r="1.3" fill="#1a1aa4" stroke="#5a5ad0" stroke-width="0.4"/><circle cx="507.20" cy="186.00" r="1.3" fill="#1a1aa4" stroke="#5a5ad0" stroke-width="0.4"/><circle cx="509.80" cy="186.00" r="1.3" fill="#1a1aa4" stroke="#5a5ad0" stroke-width="0.4"/><circle cx="502.20" cy="191.60" r="1.3" fill="#1a1aa4" stroke="#5a5ad0" stroke-width="0.4"/><circle cx="504.80" cy="191.60" r="1.3" fill="#1a1aa4" stroke="#5a5ad0" stroke-width="0.4"/><circle cx="513.20" cy="182.60" r="1.3" fill="#1a1aa4" stroke="#5a5ad0" stroke-width="0.4"/><circle cx="515.80" cy="182.60" r="1.3" fill="#1a1aa4" stroke="#5a5ad0" stroke-width="0.4"/><circle cx="515.50" cy="188.80" r="1.3" fill="#1a1aa4" stroke="#5a5ad0" stroke-width="0.4"/><circle cx="518.10" cy="188.80" r="1.3" fill="#1a1aa4" stroke="#5a5ad0" stroke-width="0.4"/><circle cx="510.00" cy="191.90" r="1.3" fill="#1a1aa4" stroke="#5a5ad0" stroke-width="0.4"/><circle cx="512.60" cy="191.90" r="1.3" fill="#1a1aa4" stroke="#5a5ad0" stroke-width="0.4"/><text x="475.8" y="133.3" font-size="6.2" fill="#222" text-anchor="start" font-family="Liberation Sans, sans-serif" textLength="28.6" lengthAdjust="spacingAndGlyphs" ><tspan font-style="italic">α</tspan>-CoOOH</text><text x="480" y="206" font-size="6.2" fill="#222" text-anchor="start" font-family="Liberation Sans, sans-serif" textLength="30.6" lengthAdjust="spacingAndGlyphs" ><tspan font-style="italic">β</tspan>-CoOOH</text><ellipse cx="520.3" cy="146.8" rx="2.6" ry="2.3" fill="#1a1aa4" stroke="#5a5ad0" stroke-width="0.5"/><ellipse cx="520.3" cy="146.8" rx="1" ry="0.8" fill="#6a6ae0"/><text x="526.7" y="149.4" font-size="6.6" fill="#222" text-anchor="start" font-family="Liberation Sans, sans-serif" >O</text><circle cx="520.3" cy="155.5" r="1.5" fill="#e03090"/><text x="526.7" y="157.9" font-size="6.6" fill="#222" text-anchor="start" font-family="Liberation Sans, sans-serif" >Co</text><circle cx="520.3" cy="163.9" r="1.1" fill="#e0a040"/><text x="526.7" y="166.3" font-size="6.6" fill="#222" text-anchor="start" font-family="Liberation Sans, sans-serif" >H</text><rect x="471.5" y="210.8" width="51.0" height="9.0" fill="#c4c4d0" opacity="0.7"/><polygon points="472.5,211.8 475.8,215.3 472.5,218.8 469.2,215.3" fill="#e4e4ec" opacity="0.8"/><polygon points="479.1,211.8 482.4,215.3 479.1,218.8 475.8,215.3" fill="#e4e4ec" opacity="0.8"/><polygon points="485.7,211.8 489.0,215.3 485.7,218.8 482.4,215.3" fill="#e4e4ec" opacity="0.8"/><polygon points="492.3,211.8 495.6,215.3 492.3,218.8 489.0,215.3" fill="#e4e4ec" opacity="0.8"/><polygon points="498.9,211.8 502.2,215.3 498.9,218.8 495.6,215.3" fill="#e4e4ec" opacity="0.8"/><polygon points="505.5,211.8 508.8,215.3 505.5,218.8 502.2,215.3" fill="#e4e4ec" opacity="0.8"/><polygon points="512.1,211.8 515.4,215.3 512.1,218.8 508.8,215.3" fill="#e4e4ec" opacity="0.8"/><polygon points="518.7,211.8 522.0,215.3 518.7,218.8 515.4,215.3" fill="#e4e4ec" opacity="0.8"/><circle cx="474.0" cy="215.3" r="0.75" fill="#e060a8"/><circle cx="479.2" cy="215.3" r="0.75" fill="#e060a8"/><circle cx="484.4" cy="215.3" r="0.75" fill="#e060a8"/><circle cx="489.6" cy="215.3" r="0.75" fill="#e060a8"/><circle cx="494.8" cy="215.3" r="0.75" fill="#e060a8"/><circle cx="500.0" cy="215.3" r="0.75" fill="#e060a8"/><circle cx="505.2" cy="215.3" r="0.75" fill="#e060a8"/><circle cx="510.4" cy="215.3" r="0.75" fill="#e060a8"/><circle cx="515.6" cy="215.3" r="0.75" fill="#e060a8"/><circle cx="520.8" cy="215.3" r="0.75" fill="#e060a8"/><rect x="477.5" y="225.7" width="38.5" height="9.0" fill="#c4c4d0" opacity="0.7"/><polygon points="478.5,226.7 481.8,230.2 478.5,233.7 475.2,230.2" fill="#e4e4ec" opacity="0.8"/><polygon points="485.1,226.7 488.4,230.2 485.1,233.7 481.8,230.2" fill="#e4e4ec" opacity="0.8"/><polygon points="491.7,226.7 495.0,230.2 491.7,233.7 488.4,230.2" fill="#e4e4ec" opacity="0.8"/><polygon points="498.3,226.7 501.6,230.2 498.3,233.7 495.0,230.2" fill="#e4e4ec" opacity="0.8"/><polygon points="504.9,226.7 508.2,230.2 504.9,233.7 501.6,230.2" fill="#e4e4ec" opacity="0.8"/><polygon points="511.5,226.7 514.8,230.2 511.5,233.7 508.2,230.2" fill="#e4e4ec" opacity="0.8"/><circle cx="480.0" cy="230.2" r="0.75" fill="#e060a8"/><circle cx="485.2" cy="230.2" r="0.75" fill="#e060a8"/><circle cx="490.4" cy="230.2" r="0.75" fill="#e060a8"/><circle cx="495.6" cy="230.2" r="0.75" fill="#e060a8"/><circle cx="500.8" cy="230.2" r="0.75" fill="#e060a8"/><circle cx="506.0" cy="230.2" r="0.75" fill="#e060a8"/><circle cx="511.2" cy="230.2" r="0.75" fill="#e060a8"/><circle cx="516.4" cy="230.2" r="0.75" fill="#e060a8"/><rect x="478" y="240.7" width="37" height="8.800000000000011" fill="#c4c4d0" opacity="0.7"/><polygon points="479.0,241.7 482.3,245.1 479.0,248.5 475.7,245.1" fill="#e4e4ec" opacity="0.8"/><polygon points="485.6,241.7 488.9,245.1 485.6,248.5 482.3,245.1" fill="#e4e4ec" opacity="0.8"/><polygon points="492.2,241.7 495.5,245.1 492.2,248.5 488.9,245.1" fill="#e4e4ec" opacity="0.8"/><polygon points="498.8,241.7 502.1,245.1 498.8,248.5 495.5,245.1" fill="#e4e4ec" opacity="0.8"/><polygon points="505.4,241.7 508.7,245.1 505.4,248.5 502.1,245.1" fill="#e4e4ec" opacity="0.8"/><polygon points="512.0,241.7 515.3,245.1 512.0,248.5 508.7,245.1" fill="#e4e4ec" opacity="0.8"/><circle cx="480.5" cy="245.1" r="0.75" fill="#e060a8"/><circle cx="485.7" cy="245.1" r="0.75" fill="#e060a8"/><circle cx="490.9" cy="245.1" r="0.75" fill="#e060a8"/><circle cx="496.1" cy="245.1" r="0.75" fill="#e060a8"/><circle cx="501.3" cy="245.1" r="0.75" fill="#e060a8"/><circle cx="506.5" cy="245.1" r="0.75" fill="#e060a8"/><circle cx="511.7" cy="245.1" r="0.75" fill="#e060a8"/><rect x="470.5" y="255.2" width="52.0" height="9.600000000000023" fill="#c4c4d0" opacity="0.7"/><polygon points="471.5,256.2 474.8,260.0 471.5,263.8 468.2,260.0" fill="#e4e4ec" opacity="0.8"/><polygon points="478.1,256.2 481.4,260.0 478.1,263.8 474.8,260.0" fill="#e4e4ec" opacity="0.8"/><polygon points="484.7,256.2 488.0,260.0 484.7,263.8 481.4,260.0" fill="#e4e4ec" opacity="0.8"/><polygon points="491.3,256.2 494.6,260.0 491.3,263.8 488.0,260.0" fill="#e4e4ec" opacity="0.8"/><polygon points="497.9,256.2 501.2,260.0 497.9,263.8 494.6,260.0" fill="#e4e4ec" opacity="0.8"/><polygon points="504.5,256.2 507.8,260.0 504.5,263.8 501.2,260.0" fill="#e4e4ec" opacity="0.8"/><polygon points="511.1,256.2 514.4,260.0 511.1,263.8 507.8,260.0" fill="#e4e4ec" opacity="0.8"/><polygon points="517.7,256.2 521.0,260.0 517.7,263.8 514.4,260.0" fill="#e4e4ec" opacity="0.8"/><circle cx="473.0" cy="260.0" r="0.75" fill="#e060a8"/><circle cx="478.2" cy="260.0" r="0.75" fill="#e060a8"/><circle cx="483.4" cy="260.0" r="0.75" fill="#e060a8"/><circle cx="488.6" cy="260.0" r="0.75" fill="#e060a8"/><circle cx="493.8" cy="260.0" r="0.75" fill="#e060a8"/><circle cx="499.0" cy="260.0" r="0.75" fill="#e060a8"/><circle cx="504.2" cy="260.0" r="0.75" fill="#e060a8"/><circle cx="509.4" cy="260.0" r="0.75" fill="#e060a8"/><circle cx="514.6" cy="260.0" r="0.75" fill="#e060a8"/><circle cx="519.8" cy="260.0" r="0.75" fill="#e060a8"/><circle cx="472.50" cy="211.49" r="1.35" fill="#1a1aa4" stroke="#5a5ad0" stroke-width="0.4"/><circle cx="475.90" cy="211.85" r="1.35" fill="#1a1aa4" stroke="#5a5ad0" stroke-width="0.4"/><circle cx="479.30" cy="211.64" r="1.35" fill="#1a1aa4" stroke="#5a5ad0" stroke-width="0.4"/><circle cx="482.70" cy="211.92" r="1.35" fill="#1a1aa4" stroke="#5a5ad0" stroke-width="0.4"/><circle cx="486.10" cy="211.95" r="1.35" fill="#1a1aa4" stroke="#5a5ad0" stroke-width="0.4"/><circle cx="489.50" cy="211.28" r="1.35" fill="#1a1aa4" stroke="#5a5ad0" stroke-width="0.4"/><circle cx="492.90" cy="211.22" r="1.35" fill="#1a1aa4" stroke="#5a5ad0" stroke-width="0.4"/><circle cx="496.30" cy="212.20" r="1.35" fill="#1a1aa4" stroke="#5a5ad0" stroke-width="0.4"/><circle cx="499.70" cy="211.51" r="1.35" fill="#1a1aa4" stroke="#5a5ad0" stroke-width="0.4"/><circle cx="503.10" cy="211.48" r="1.35" fill="#1a1aa4" stroke="#5a5ad0" stroke-width="0.4"/><circle cx="506.50" cy="212.39" r="1.35" fill="#1a1aa4" stroke="#5a5ad0" stroke-width="0.4"/><circle cx="509.90" cy="211.76" r="1.35" fill="#1a1aa4" stroke="#5a5ad0" stroke-width="0.4"/><circle cx="513.30" cy="212.20" r="1.35" fill="#1a1aa4" stroke="#5a5ad0" stroke-width="0.4"/><circle cx="516.70" cy="211.77" r="1.35" fill="#1a1aa4" stroke="#5a5ad0" stroke-width="0.4"/><circle cx="520.10" cy="211.97" r="1.35" fill="#1a1aa4" stroke="#5a5ad0" stroke-width="0.4"/><circle cx="473.50" cy="218.45" r="1.35" fill="#1a1aa4" stroke="#5a5ad0" stroke-width="0.4"/><circle cx="478.72" cy="219.17" r="1.35" fill="#1a1aa4" stroke="#5a5ad0" stroke-width="0.4"/><circle cx="483.75" cy="219.04" r="1.35" fill="#1a1aa4" stroke="#5a5ad0" stroke-width="0.4"/><circle cx="489.03" cy="218.36" r="1.35" fill="#1a1aa4" stroke="#5a5ad0" stroke-width="0.4"/><circle cx="494.44" cy="218.89" r="1.35" fill="#1a1aa4" stroke="#5a5ad0" stroke-width="0.4"/><circle cx="499.12" cy="218.33" r="1.35" fill="#1a1aa4" stroke="#5a5ad0" stroke-width="0.4"/><circle cx="504.71" cy="218.77" r="1.35" fill="#1a1aa4" stroke="#5a5ad0" stroke-width="0.4"/><circle cx="510.06" cy="219.18" r="1.35" fill="#1a1aa4" stroke="#5a5ad0" stroke-width="0.4"/><circle cx="515.40" cy="219.22" r="1.35" fill="#1a1aa4" stroke="#5a5ad0" stroke-width="0.4"/><circle cx="520.23" cy="219.10" r="1.35" fill="#1a1aa4" stroke="#5a5ad0" stroke-width="0.4"/><circle cx="478.50" cy="227.22" r="1.35" fill="#1a1aa4" stroke="#5a5ad0" stroke-width="0.4"/><circle cx="482.10" cy="227.15" r="1.35" fill="#1a1aa4" stroke="#5a5ad0" stroke-width="0.4"/><circle cx="485.70" cy="226.22" r="1.35" fill="#1a1aa4" stroke="#5a5ad0" stroke-width="0.4"/><circle cx="489.30" cy="226.26" r="1.35" fill="#1a1aa4" stroke="#5a5ad0" stroke-width="0.4"/><circle cx="492.90" cy="226.36" r="1.35" fill="#1a1aa4" stroke="#5a5ad0" stroke-width="0.4"/><circle cx="496.50" cy="227.26" r="1.35" fill="#1a1aa4" stroke="#5a5ad0" stroke-width="0.4"/><circle cx="500.10" cy="226.62" r="1.35" fill="#1a1aa4" stroke="#5a5ad0" stroke-width="0.4"/><circle cx="503.70" cy="226.85" r="1.35" fill="#1a1aa4" stroke="#5a5ad0" stroke-width="0.4"/><circle cx="507.30" cy="226.46" r="1.35" fill="#1a1aa4" stroke="#5a5ad0" stroke-width="0.4"/><circle cx="510.90" cy="226.71" r="1.35" fill="#1a1aa4" stroke="#5a5ad0" stroke-width="0.4"/><circle cx="514.50" cy="226.56" r="1.35" fill="#1a1aa4" stroke="#5a5ad0" stroke-width="0.4"/><circle cx="479.50" cy="233.55" r="1.35" fill="#1a1aa4" stroke="#5a5ad0" stroke-width="0.4"/><circle cx="484.64" cy="233.78" r="1.35" fill="#1a1aa4" stroke="#5a5ad0" stroke-width="0.4"/><circle cx="490.28" cy="233.88" r="1.35" fill="#1a1aa4" stroke="#5a5ad0" stroke-width="0.4"/><circle cx="495.97" cy="234.06" r="1.35" fill="#1a1aa4" stroke="#5a5ad0" stroke-width="0.4"/><circle cx="501.75" cy="233.87" r="1.35" fill="#1a1aa4" stroke="#5a5ad0" stroke-width="0.4"/><circle cx="506.22" cy="234.06" r="1.35" fill="#1a1aa4" stroke="#5a5ad0" stroke-width="0.4"/><circle cx="511.96" cy="234.10" r="1.35" fill="#1a1aa4" stroke="#5a5ad0" stroke-width="0.4"/><circle cx="479.00" cy="241.96" r="1.35" fill="#1a1aa4" stroke="#5a5ad0" stroke-width="0.4"/><circle cx="482.60" cy="241.35" r="1.35" fill="#1a1aa4" stroke="#5a5ad0" stroke-width="0.4"/><circle cx="486.20" cy="242.10" r="1.35" fill="#1a1aa4" stroke="#5a5ad0" stroke-width="0.4"/><circle cx="489.80" cy="241.79" r="1.35" fill="#1a1aa4" stroke="#5a5ad0" stroke-width="0.4"/><circle cx="493.40" cy="241.44" r="1.35" fill="#1a1aa4" stroke="#5a5ad0" stroke-width="0.4"/><circle cx="497.00" cy="241.18" r="1.35" fill="#1a1aa4" stroke="#5a5ad0" stroke-width="0.4"/><circle cx="500.60" cy="242.12" r="1.35" fill="#1a1aa4" stroke="#5a5ad0" stroke-width="0.4"/><circle cx="504.20" cy="242.29" r="1.35" fill="#1a1aa4" stroke="#5a5ad0" stroke-width="0.4"/><circle cx="507.80" cy="241.21" r="1.35" fill="#1a1aa4" stroke="#5a5ad0" stroke-width="0.4"/><circle cx="511.40" cy="242.06" r="1.35" fill="#1a1aa4" stroke="#5a5ad0" stroke-width="0.4"/><circle cx="480.00" cy="248.41" r="1.35" fill="#1a1aa4" stroke="#5a5ad0" stroke-width="0.4"/><circle cx="484.44" cy="248.29" r="1.35" fill="#1a1aa4" stroke="#5a5ad0" stroke-width="0.4"/><circle cx="489.87" cy="248.87" r="1.35" fill="#1a1aa4" stroke="#5a5ad0" stroke-width="0.4"/><circle cx="494.14" cy="248.61" r="1.35" fill="#1a1aa4" stroke="#5a5ad0" stroke-width="0.4"/><circle cx="498.41" cy="248.72" r="1.35" fill="#1a1aa4" stroke="#5a5ad0" stroke-width="0.4"/><circle cx="503.14" cy="248.88" r="1.35" fill="#1a1aa4" stroke="#5a5ad0" stroke-width="0.4"/><circle cx="508.91" cy="248.51" r="1.35" fill="#1a1aa4" stroke="#5a5ad0" stroke-width="0.4"/><circle cx="471.50" cy="255.97" r="1.35" fill="#1a1aa4" stroke="#5a5ad0" stroke-width="0.4"/><circle cx="474.90" cy="255.69" r="1.35" fill="#1a1aa4" stroke="#5a5ad0" stroke-width="0.4"/><circle cx="478.30" cy="256.32" r="1.35" fill="#1a1aa4" stroke="#5a5ad0" stroke-width="0.4"/><circle cx="481.70" cy="255.64" r="1.35" fill="#1a1aa4" stroke="#5a5ad0" stroke-width="0.4"/><circle cx="485.10" cy="255.84" r="1.35" fill="#1a1aa4" stroke="#5a5ad0" stroke-width="0.4"/><circle cx="488.50" cy="256.09" r="1.35" fill="#1a1aa4" stroke="#5a5ad0" stroke-width="0.4"/><circle cx="491.90" cy="256.33" r="1.35" fill="#1a1aa4" stroke="#5a5ad0" stroke-width="0.4"/><circle cx="495.30" cy="255.79" r="1.35" fill="#1a1aa4" stroke="#5a5ad0" stroke-width="0.4"/><circle cx="498.70" cy="255.65" r="1.35" fill="#1a1aa4" stroke="#5a5ad0" stroke-width="0.4"/><circle cx="502.10" cy="256.64" r="1.35" fill="#1a1aa4" stroke="#5a5ad0" stroke-width="0.4"/><circle cx="505.50" cy="255.98" r="1.35" fill="#1a1aa4" stroke="#5a5ad0" stroke-width="0.4"/><circle cx="508.90" cy="256.75" r="1.35" fill="#1a1aa4" stroke="#5a5ad0" stroke-width="0.4"/><circle cx="512.30" cy="256.68" r="1.35" fill="#1a1aa4" stroke="#5a5ad0" stroke-width="0.4"/><circle cx="515.70" cy="256.05" r="1.35" fill="#1a1aa4" stroke="#5a5ad0" stroke-width="0.4"/><circle cx="519.10" cy="256.15" r="1.35" fill="#1a1aa4" stroke="#5a5ad0" stroke-width="0.4"/><circle cx="472.50" cy="263.82" r="1.35" fill="#1a1aa4" stroke="#5a5ad0" stroke-width="0.4"/><circle cx="477.73" cy="263.90" r="1.35" fill="#1a1aa4" stroke="#5a5ad0" stroke-width="0.4"/><circle cx="482.83" cy="263.92" r="1.35" fill="#1a1aa4" stroke="#5a5ad0" stroke-width="0.4"/><circle cx="488.53" cy="263.81" r="1.35" fill="#1a1aa4" stroke="#5a5ad0" stroke-width="0.4"/><circle cx="493.42" cy="264.02" r="1.35" fill="#1a1aa4" stroke="#5a5ad0" stroke-width="0.4"/><circle cx="498.00" cy="263.60" r="1.35" fill="#1a1aa4" stroke="#5a5ad0" stroke-width="0.4"/><circle cx="503.76" cy="263.82" r="1.35" fill="#1a1aa4" stroke="#5a5ad0" stroke-width="0.4"/><circle cx="508.84" cy="263.31" r="1.35" fill="#1a1aa4" stroke="#5a5ad0" stroke-width="0.4"/><circle cx="513.71" cy="263.88" r="1.35" fill="#1a1aa4" stroke="#5a5ad0" stroke-width="0.4"/><circle cx="517.94" cy="263.92" r="1.35" fill="#1a1aa4" stroke="#5a5ad0" stroke-width="0.4"/><circle cx="484" cy="222.0" r="0.55" fill="#e0a040"/><circle cx="485" cy="224" r="0.55" fill="#e0a040"/><circle cx="491.3" cy="222.0" r="0.55" fill="#e0a040"/><circle cx="492.3" cy="224" r="0.55" fill="#e0a040"/><circle cx="498" cy="222.0" r="0.55" fill="#e0a040"/><circle cx="499" cy="224" r="0.55" fill="#e0a040"/><circle cx="501.9" cy="222.0" r="0.55" fill="#e0a040"/><circle cx="502.9" cy="224" r="0.55" fill="#e0a040"/><circle cx="508.6" cy="222.0" r="0.55" fill="#e0a040"/><circle cx="509.6" cy="224" r="0.55" fill="#e0a040"/><circle cx="484" cy="237.0" r="0.55" fill="#e0a040"/><circle cx="485" cy="239" r="0.55" fill="#e0a040"/><circle cx="491.3" cy="237.0" r="0.55" fill="#e0a040"/><circle cx="492.3" cy="239" r="0.55" fill="#e0a040"/><circle cx="498" cy="237.0" r="0.55" fill="#e0a040"/><circle cx="499" cy="239" r="0.55" fill="#e0a040"/><circle cx="501.9" cy="237.0" r="0.55" fill="#e0a040"/><circle cx="502.9" cy="239" r="0.55" fill="#e0a040"/><circle cx="508.6" cy="237.0" r="0.55" fill="#e0a040"/><circle cx="509.6" cy="239" r="0.55" fill="#e0a040"/><circle cx="484" cy="251.5" r="0.55" fill="#e0a040"/><circle cx="485" cy="253.5" r="0.55" fill="#e0a040"/><circle cx="491.3" cy="251.5" r="0.55" fill="#e0a040"/><circle cx="492.3" cy="253.5" r="0.55" fill="#e0a040"/><circle cx="498" cy="251.5" r="0.55" fill="#e0a040"/><circle cx="499" cy="253.5" r="0.55" fill="#e0a040"/><circle cx="501.9" cy="251.5" r="0.55" fill="#e0a040"/><circle cx="502.9" cy="253.5" r="0.55" fill="#e0a040"/><circle cx="508.6" cy="251.5" r="0.55" fill="#e0a040"/><circle cx="509.6" cy="253.5" r="0.55" fill="#e0a040"/><line x1="6" y1="2.7" x2="545.6" y2="2.7" stroke="#4f8fcf" stroke-width="1.3" stroke-dasharray="3.4 2.65"/><line x1="4.1" y1="122.6" x2="545.6" y2="122.6" stroke="#4f8fcf" stroke-width="1.3" stroke-dasharray="3.4 2.65"/><line x1="6" y1="283.1" x2="545.6" y2="283.1" stroke="#4f8fcf" stroke-width="1.3" stroke-dasharray="3.4 2.65"/><line x1="3.4" y1="2.2" x2="3.4" y2="283.5" stroke="#4f8fcf" stroke-width="1.3" stroke-dasharray="3.5 3.1"/><line x1="545.6" y1="2.2" x2="545.6" y2="283.5" stroke="#4f8fcf" stroke-width="1.3" stroke-dasharray="3.5 3.1"/><line x1="184.3" y1="2.2" x2="184.3" y2="122.6" stroke="#4f8fcf" stroke-width="1.3" stroke-dasharray="3.5 3.1"/><text x="6.6" y="14" font-size="11.3" font-family="Liberation Serif, serif" font-weight="bold" fill="#111" stroke="#111" stroke-width="0.45">(a)</text><text x="189.2" y="14.6" font-size="11.3" font-family="Liberation Serif, serif" font-weight="bold" fill="#111" stroke="#111" stroke-width="0.45">(b)</text><text x="6.6" y="134.3" font-size="11.3" font-family="Liberation Serif, serif" font-weight="bold" fill="#111" stroke="#111" stroke-width="0.45">(c)</text><text x="212.7" y="134.6" font-size="11.3" font-family="Liberation Serif, serif" font-weight="bold" fill="#111" stroke="#111" stroke-width="0.45">(d)</text></svg></body></html>
